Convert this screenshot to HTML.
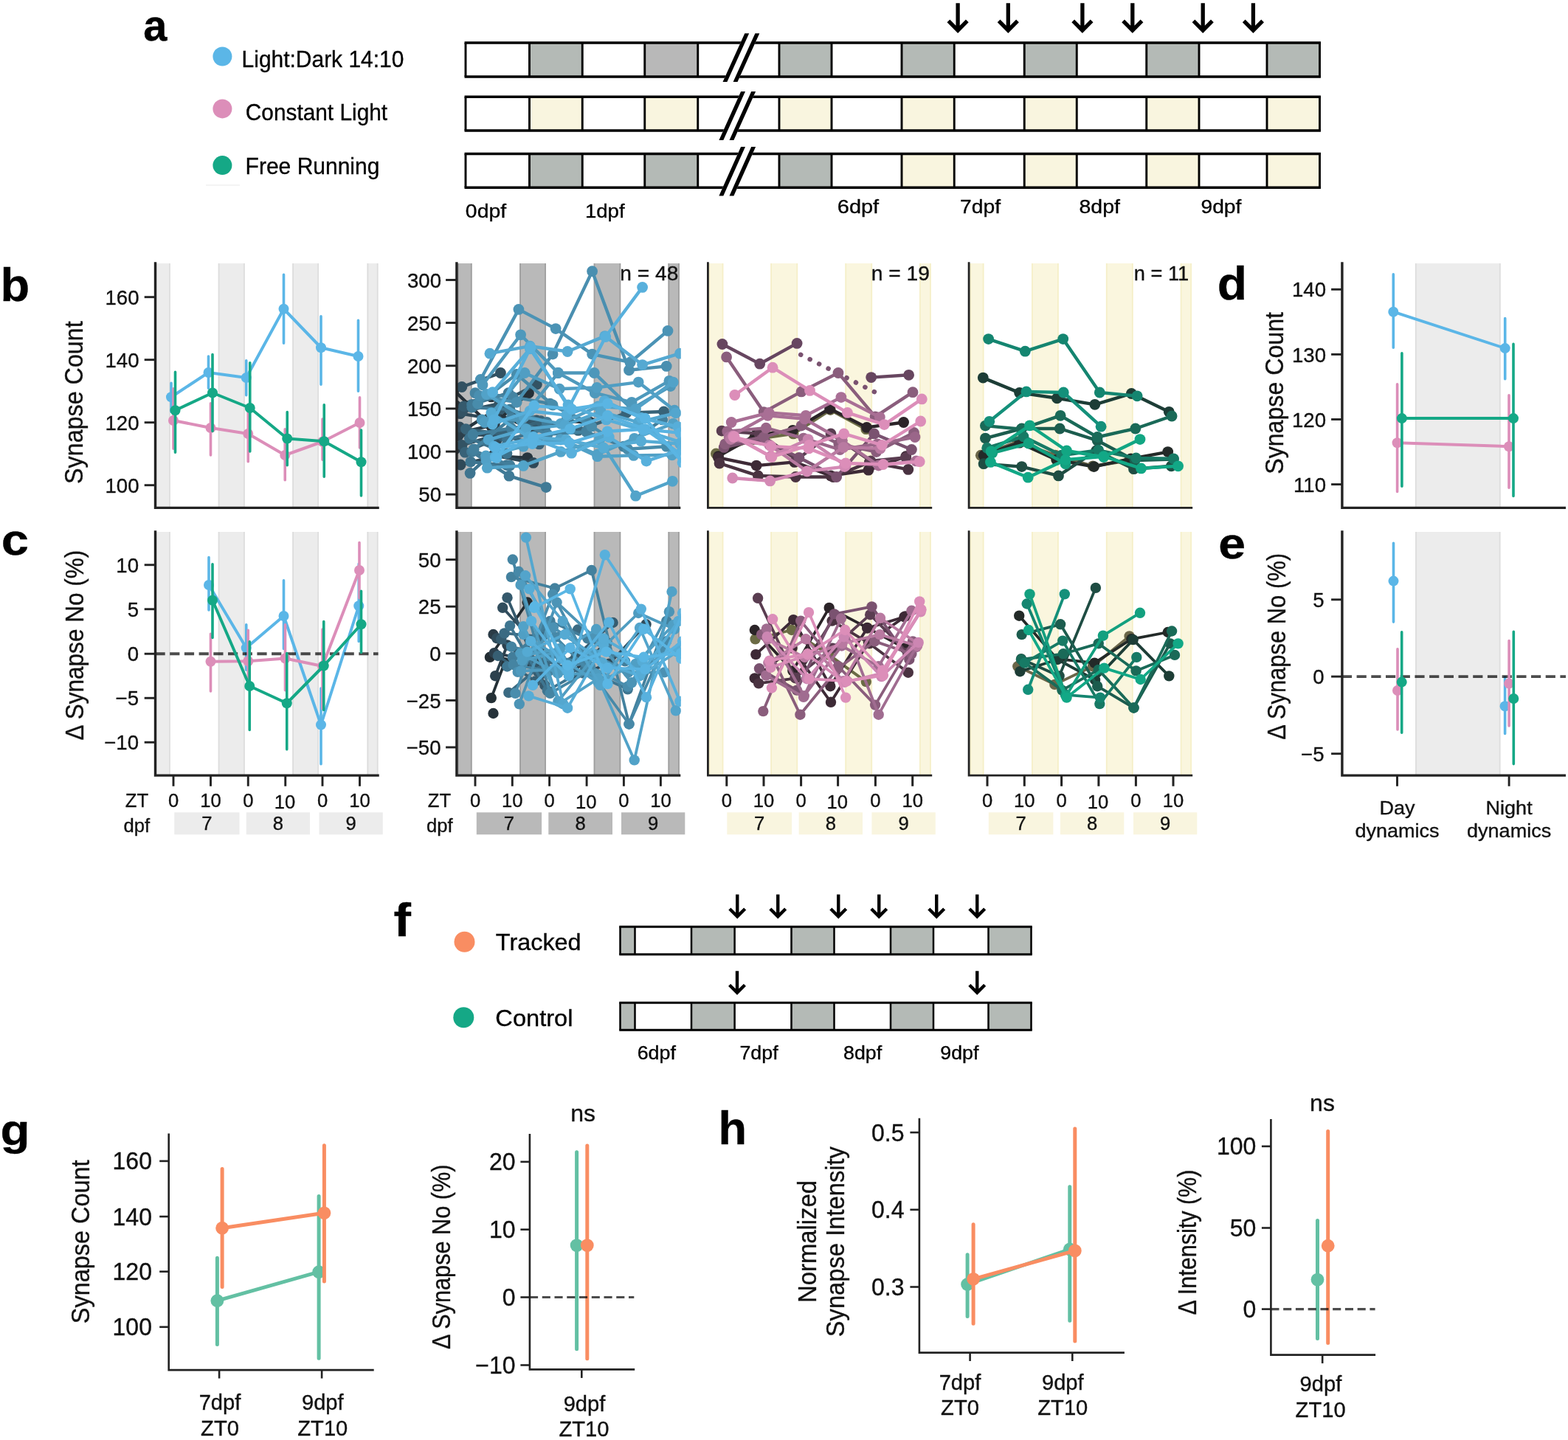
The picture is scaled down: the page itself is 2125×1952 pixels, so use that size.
<!DOCTYPE html>
<html lang="en">
<head>
<meta charset="utf-8">
<title>Synapse dynamics figure</title>
<style>
html,body{margin:0;padding:0;background:#fff;}
body{width:2125px;height:1952px;overflow:hidden;}
svg{display:block;font-family:"Liberation Sans", Arial, Helvetica, sans-serif;}
text{stroke:#111;stroke-width:0.35px;paint-order:stroke;}
</style>
</head>
<body>
<svg width="2125" height="1952" viewBox="0 0 2125 1952">
<rect width="2125" height="1952" fill="#fff"/>
<text transform="translate(194.26 55.40) scale(0.9821 1)" font-size="59" font-weight="bold" fill="#000">a</text>
<circle cx="301.40" cy="76.50" r="13" fill="#5BB6E7"/>
<circle cx="301.40" cy="147.40" r="13" fill="#DC8EB9"/>
<circle cx="301.40" cy="224.10" r="13" fill="#15A886"/>
<text transform="translate(327.60 91.20) scale(0.9820 1)" font-size="30.5" fill="#000">Light:Dark 14:10</text>
<text transform="translate(332.76 162.50) scale(0.9787 1)" font-size="30.5" fill="#000">Constant Light</text>
<text transform="translate(332.60 236.20) scale(0.9839 1)" font-size="30.5" fill="#000">Free Running</text>
<line x1="279.00" y1="251.00" x2="325.00" y2="251.00" stroke="#e9e9e9" stroke-width="1"/>
<rect x="717.50" y="58.10" width="71.75" height="46.00" fill="#B4BAB6"/>
<rect x="873.75" y="58.10" width="72.00" height="46.00" fill="#B8B8B8"/>
<rect x="1056.00" y="58.10" width="71.00" height="46.00" fill="#B4BAB6"/>
<rect x="1222.00" y="58.10" width="71.25" height="46.00" fill="#B4BAB6"/>
<rect x="1388.25" y="58.10" width="71.00" height="46.00" fill="#B4BAB6"/>
<rect x="1553.75" y="58.10" width="71.25" height="46.00" fill="#B4BAB6"/>
<rect x="1717.00" y="58.10" width="71.50" height="46.00" fill="#B4BAB6"/>
<path d="M717.50 58.10V104.10M789.25 58.10V104.10M873.75 58.10V104.10M945.75 58.10V104.10M1056.00 58.10V104.10M1127.00 58.10V104.10M1222.00 58.10V104.10M1293.25 58.10V104.10M1388.25 58.10V104.10M1459.25 58.10V104.10M1553.75 58.10V104.10M1625.00 58.10V104.10M1717.00 58.10V104.10" fill="none" stroke="#000" stroke-width="2.9"/>
<path d="M629.55 58.10H1789.95M629.55 104.10H1789.95" fill="none" stroke="#000" stroke-width="3.5"/>
<path d="M631.00 58.10V104.10M1788.50 58.10V104.10" fill="none" stroke="#000" stroke-width="2.9"/>
<rect x="717.50" y="131.20" width="71.75" height="45.80" fill="#F9F5DF"/>
<rect x="873.75" y="131.20" width="72.00" height="45.80" fill="#F9F5DF"/>
<rect x="1056.00" y="131.20" width="71.00" height="45.80" fill="#F9F5DF"/>
<rect x="1222.00" y="131.20" width="71.25" height="45.80" fill="#F9F5DF"/>
<rect x="1388.25" y="131.20" width="71.00" height="45.80" fill="#F9F5DF"/>
<rect x="1553.75" y="131.20" width="71.25" height="45.80" fill="#F9F5DF"/>
<rect x="1717.00" y="131.20" width="71.50" height="45.80" fill="#F9F5DF"/>
<path d="M717.50 131.20V177.00M789.25 131.20V177.00M873.75 131.20V177.00M945.75 131.20V177.00M1056.00 131.20V177.00M1127.00 131.20V177.00M1222.00 131.20V177.00M1293.25 131.20V177.00M1388.25 131.20V177.00M1459.25 131.20V177.00M1553.75 131.20V177.00M1625.00 131.20V177.00M1717.00 131.20V177.00" fill="none" stroke="#000" stroke-width="2.9"/>
<path d="M629.55 131.20H1789.95M629.55 177.00H1789.95" fill="none" stroke="#000" stroke-width="3.5"/>
<path d="M631.00 131.20V177.00M1788.50 131.20V177.00" fill="none" stroke="#000" stroke-width="2.9"/>
<rect x="717.50" y="208.50" width="71.75" height="45.70" fill="#B4BAB6"/>
<rect x="873.75" y="208.50" width="72.00" height="45.70" fill="#B4BAB6"/>
<rect x="1056.00" y="208.50" width="71.00" height="45.70" fill="#B4BAB6"/>
<rect x="1222.00" y="208.50" width="71.25" height="45.70" fill="#F9F5DF"/>
<rect x="1388.25" y="208.50" width="71.00" height="45.70" fill="#F9F5DF"/>
<rect x="1553.75" y="208.50" width="71.25" height="45.70" fill="#F9F5DF"/>
<rect x="1717.00" y="208.50" width="71.50" height="45.70" fill="#F9F5DF"/>
<path d="M717.50 208.50V254.20M789.25 208.50V254.20M873.75 208.50V254.20M945.75 208.50V254.20M1056.00 208.50V254.20M1127.00 208.50V254.20M1222.00 208.50V254.20M1293.25 208.50V254.20M1388.25 208.50V254.20M1459.25 208.50V254.20M1553.75 208.50V254.20M1625.00 208.50V254.20M1717.00 208.50V254.20" fill="none" stroke="#000" stroke-width="2.9"/>
<path d="M629.55 208.50H1789.95M629.55 254.20H1789.95" fill="none" stroke="#000" stroke-width="3.5"/>
<path d="M631.00 208.50V254.20M1788.50 208.50V254.20" fill="none" stroke="#000" stroke-width="2.9"/>
<path d="M979.50 110.90L1009.30 45.20H1029.30L999.50 110.90Z" fill="#fff"/>
<path d="M979.50 110.90L1009.30 45.20h5.9L985.40 110.90ZM993.60 110.90L1023.40 45.20h5.9L999.50 110.90Z" fill="#000"/>
<path d="M974.40 189.90L1004.10 124.00H1024.10L994.40 189.90Z" fill="#fff"/>
<path d="M974.40 189.90L1004.10 124.00h5.9L980.30 189.90ZM988.50 189.90L1018.20 124.00h5.9L994.40 189.90Z" fill="#000"/>
<path d="M974.40 265.40L1004.10 199.10H1024.10L994.40 265.40Z" fill="#fff"/>
<path d="M974.40 265.40L1004.10 199.10h5.9L980.30 265.40ZM988.50 265.40L1018.20 199.10h5.9L994.40 265.40Z" fill="#000"/>
<path d="M1298.10 4.20V41.15M1285.40 28.45L1298.10 41.15L1310.80 28.45" fill="none" stroke="#000" stroke-width="5.3" stroke-linejoin="miter" stroke-miterlimit="10"/>
<path d="M1366.30 4.20V41.15M1353.60 28.45L1366.30 41.15L1379.00 28.45" fill="none" stroke="#000" stroke-width="5.3" stroke-linejoin="miter" stroke-miterlimit="10"/>
<path d="M1466.90 4.20V41.15M1454.20 28.45L1466.90 41.15L1479.60 28.45" fill="none" stroke="#000" stroke-width="5.3" stroke-linejoin="miter" stroke-miterlimit="10"/>
<path d="M1534.80 4.20V41.15M1522.10 28.45L1534.80 41.15L1547.50 28.45" fill="none" stroke="#000" stroke-width="5.3" stroke-linejoin="miter" stroke-miterlimit="10"/>
<path d="M1630.20 4.20V41.15M1617.50 28.45L1630.20 41.15L1642.90 28.45" fill="none" stroke="#000" stroke-width="5.3" stroke-linejoin="miter" stroke-miterlimit="10"/>
<path d="M1698.40 4.20V41.15M1685.70 28.45L1698.40 41.15L1711.10 28.45" fill="none" stroke="#000" stroke-width="5.3" stroke-linejoin="miter" stroke-miterlimit="10"/>
<text transform="translate(630.86 294.50) scale(1.0718 1)" font-size="26.5" fill="#000">0dpf</text>
<text transform="translate(792.93 294.50) scale(1.0415 1)" font-size="26.5" fill="#000">1dpf</text>
<text transform="translate(1134.80 289.00) scale(1.0924 1)" font-size="26.5" fill="#000">6dpf</text>
<text transform="translate(1301.09 289.00) scale(1.0675 1)" font-size="26.5" fill="#000">7dpf</text>
<text transform="translate(1462.47 289.00) scale(1.0746 1)" font-size="26.5" fill="#000">8dpf</text>
<text transform="translate(1627.48 289.00) scale(1.0647 1)" font-size="26.5" fill="#000">9dpf</text>
<text transform="translate(0.58 407.90) scale(1.0310 1)" font-size="63" font-weight="bold" fill="#000">b</text>
<rect x="211.00" y="357.00" width="19.75" height="331.40" fill="#ECECEC"/>
<path d="M211.85 357.00V688.40M229.90 357.00V688.40" stroke="#DDDDDD" stroke-width="1.7" fill="none"/>
<rect x="295.75" y="357.00" width="36.00" height="331.40" fill="#ECECEC"/>
<path d="M296.60 357.00V688.40M330.90 357.00V688.40" stroke="#DDDDDD" stroke-width="1.7" fill="none"/>
<rect x="396.25" y="357.00" width="35.75" height="331.40" fill="#ECECEC"/>
<path d="M397.10 357.00V688.40M431.15 357.00V688.40" stroke="#DDDDDD" stroke-width="1.7" fill="none"/>
<rect x="497.50" y="357.00" width="15.00" height="331.40" fill="#ECECEC"/>
<path d="M498.35 357.00V688.40M511.65 357.00V688.40" stroke="#DDDDDD" stroke-width="1.7" fill="none"/>
<g stroke="#5BB6E7" fill="#5BB6E7"><polyline points="232.00,538.25 282.50,505.00 333.75,512.00 384.50,418.75 435.00,471.25 485.50,483.00" fill="none" stroke-width="4.0" stroke-linejoin="round"/><path d="M232.00 519.30V558.20M282.50 483.05V526.20M333.75 488.80V535.70M384.50 372.30V465.20M435.00 428.80V521.20M485.50 434.30V530.20" fill="none" stroke-width="3.6" stroke-linecap="round"/><circle cx="232.00" cy="538.25" r="7" stroke="none"/><circle cx="282.50" cy="505.00" r="7" stroke="none"/><circle cx="333.75" cy="512.00" r="7" stroke="none"/><circle cx="384.50" cy="418.75" r="7" stroke="none"/><circle cx="435.00" cy="471.25" r="7" stroke="none"/><circle cx="485.50" cy="483.00" r="7" stroke="none"/></g>
<g stroke="#DC8EB9" fill="#DC8EB9"><polyline points="235.00,570.00 285.50,580.00 336.25,588.00 386.25,617.00 437.00,598.75 487.50,573.00" fill="none" stroke-width="4.0" stroke-linejoin="round"/><path d="M235.00 526.80V608.20M285.50 546.80V616.95M336.25 554.30V625.70M386.25 581.80V650.70M437.00 568.05V623.20M487.50 538.80V606.95" fill="none" stroke-width="3.6" stroke-linecap="round"/><circle cx="235.00" cy="570.00" r="7" stroke="none"/><circle cx="285.50" cy="580.00" r="7" stroke="none"/><circle cx="336.25" cy="588.00" r="7" stroke="none"/><circle cx="386.25" cy="617.00" r="7" stroke="none"/><circle cx="437.00" cy="598.75" r="7" stroke="none"/><circle cx="487.50" cy="573.00" r="7" stroke="none"/></g>
<g stroke="#15A886" fill="#15A886"><polyline points="237.50,556.25 288.00,532.50 338.75,553.00 389.25,594.50 439.25,598.25 489.50,626.25" fill="none" stroke-width="4.0" stroke-linejoin="round"/><path d="M237.50 504.30V613.20M288.00 480.55V584.45M338.75 491.80V611.95M389.25 558.55V630.70M439.25 548.80V646.20M489.50 583.05V671.95" fill="none" stroke-width="3.6" stroke-linecap="round"/><circle cx="237.50" cy="556.25" r="7" stroke="none"/><circle cx="288.00" cy="532.50" r="7" stroke="none"/><circle cx="338.75" cy="553.00" r="7" stroke="none"/><circle cx="389.25" cy="594.50" r="7" stroke="none"/><circle cx="439.25" cy="598.25" r="7" stroke="none"/><circle cx="489.50" cy="626.25" r="7" stroke="none"/></g>
<path d="M210.50 355.20V688.40H513.75" fill="none" stroke="#222" stroke-width="3.4" stroke-linejoin="miter"/>
<line x1="195.70" y1="402.70" x2="210.50" y2="402.70" stroke="#222" stroke-width="2.9"/>
<text transform="translate(188.50 412.80) scale(0.9750 1)" font-size="28.30" text-anchor="end" fill="#111">160</text>
<line x1="195.70" y1="487.70" x2="210.50" y2="487.70" stroke="#222" stroke-width="2.9"/>
<text transform="translate(188.50 497.80) scale(0.9750 1)" font-size="28.30" text-anchor="end" fill="#111">140</text>
<line x1="195.70" y1="572.70" x2="210.50" y2="572.70" stroke="#222" stroke-width="2.9"/>
<text transform="translate(188.50 582.80) scale(0.9750 1)" font-size="28.30" text-anchor="end" fill="#111">120</text>
<line x1="195.70" y1="657.70" x2="210.50" y2="657.70" stroke="#222" stroke-width="2.9"/>
<text transform="translate(188.50 667.80) scale(0.9750 1)" font-size="28.30" text-anchor="end" fill="#111">100</text>
<text transform="translate(112.30 655.95) rotate(-90) scale(0.9383 1)" font-size="34.4" fill="#111">Synapse Count</text>
<text transform="translate(1.83 752.10) scale(1.1134 1)" font-size="60" font-weight="bold" fill="#000">c</text>
<rect x="211.00" y="721.00" width="19.75" height="330.10" fill="#ECECEC"/>
<path d="M211.85 721.00V1051.10M229.90 721.00V1051.10" stroke="#DDDDDD" stroke-width="1.7" fill="none"/>
<rect x="295.75" y="721.00" width="36.00" height="330.10" fill="#ECECEC"/>
<path d="M296.60 721.00V1051.10M330.90 721.00V1051.10" stroke="#DDDDDD" stroke-width="1.7" fill="none"/>
<rect x="396.25" y="721.00" width="35.75" height="330.10" fill="#ECECEC"/>
<path d="M397.10 721.00V1051.10M431.15 721.00V1051.10" stroke="#DDDDDD" stroke-width="1.7" fill="none"/>
<rect x="497.50" y="721.00" width="15.00" height="330.10" fill="#ECECEC"/>
<path d="M498.35 721.00V1051.10M511.65 721.00V1051.10" stroke="#DDDDDD" stroke-width="1.7" fill="none"/>
<g stroke="#5BB6E7" fill="#5BB6E7"><polyline points="283.00,793.00 333.75,878.25 384.50,835.00 435.00,982.50 486.25,821.25" fill="none" stroke-width="4.0" stroke-linejoin="round"/><path d="M283.00 755.55V826.95M333.75 846.80V908.20M384.50 786.80V879.45M435.00 933.05V1035.70M486.25 764.30V869.45" fill="none" stroke-width="3.6" stroke-linecap="round"/><circle cx="283.00" cy="793.00" r="7" stroke="none"/><circle cx="333.75" cy="878.25" r="7" stroke="none"/><circle cx="384.50" cy="835.00" r="7" stroke="none"/><circle cx="435.00" cy="982.50" r="7" stroke="none"/><circle cx="486.25" cy="821.25" r="7" stroke="none"/></g>
<line x1="210.50" y1="886.25" x2="512.60" y2="886.25" stroke="#000" stroke-opacity="0.7" stroke-width="3.8" stroke-dasharray="13.2 6.5"/>
<g stroke="#DC8EB9" fill="#DC8EB9"><polyline points="285.50,896.75 336.25,896.25 386.50,892.50 437.00,903.00 487.00,773.00" fill="none" stroke-width="4.0" stroke-linejoin="round"/><path d="M285.50 859.30V936.95M336.25 854.30V933.20M386.50 846.80V935.70M437.00 853.05V960.70M487.00 735.55V810.70" fill="none" stroke-width="3.6" stroke-linecap="round"/><circle cx="285.50" cy="896.75" r="7" stroke="none"/><circle cx="336.25" cy="896.25" r="7" stroke="none"/><circle cx="386.50" cy="892.50" r="7" stroke="none"/><circle cx="437.00" cy="903.00" r="7" stroke="none"/><circle cx="487.00" cy="773.00" r="7" stroke="none"/></g>
<g stroke="#15A886" fill="#15A886"><polyline points="288.00,813.75 338.25,930.00 388.75,953.25 438.75,902.50 489.50,846.25" fill="none" stroke-width="4.0" stroke-linejoin="round"/><path d="M288.00 764.80V864.45M338.25 869.80V989.45M388.75 885.55V1015.70M438.75 842.55V962.45M489.50 801.30V884.45" fill="none" stroke-width="3.6" stroke-linecap="round"/><circle cx="288.00" cy="813.75" r="7" stroke="none"/><circle cx="338.25" cy="930.00" r="7" stroke="none"/><circle cx="388.75" cy="953.25" r="7" stroke="none"/><circle cx="438.75" cy="902.50" r="7" stroke="none"/><circle cx="489.50" cy="846.25" r="7" stroke="none"/></g>
<path d="M210.50 719.30V1051.10H513.75" fill="none" stroke="#222" stroke-width="3.4" stroke-linejoin="miter"/>
<line x1="195.70" y1="765.75" x2="210.50" y2="765.75" stroke="#222" stroke-width="2.9"/>
<text transform="translate(188.00 775.85) scale(0.9750 1)" font-size="28.30" text-anchor="end" fill="#111">10</text>
<line x1="195.70" y1="825.75" x2="210.50" y2="825.75" stroke="#222" stroke-width="2.9"/>
<text transform="translate(188.00 835.85) scale(0.9750 1)" font-size="28.30" text-anchor="end" fill="#111">5</text>
<line x1="195.70" y1="886.25" x2="210.50" y2="886.25" stroke="#222" stroke-width="2.9"/>
<text transform="translate(188.00 896.35) scale(0.9750 1)" font-size="28.30" text-anchor="end" fill="#111">0</text>
<line x1="195.70" y1="946.25" x2="210.50" y2="946.25" stroke="#222" stroke-width="2.9"/>
<text transform="translate(188.00 956.35) scale(0.9750 1)" font-size="28.30" text-anchor="end" fill="#111">−5</text>
<line x1="195.70" y1="1006.25" x2="210.50" y2="1006.25" stroke="#222" stroke-width="2.9"/>
<text transform="translate(188.00 1016.35) scale(0.9750 1)" font-size="28.30" text-anchor="end" fill="#111">−10</text>
<text transform="translate(112.50 1003.45) rotate(-90) scale(0.9174 1)" font-size="34.4" fill="#111">Δ Synapse No (%)</text>
<path d="M235.00 1051.10v14.6M285.50 1051.10v14.6M336.25 1051.10v14.6M386.75 1051.10v14.6M437.00 1051.10v14.6M487.50 1051.10v14.6" fill="none" stroke="#222" stroke-width="2.9"/>
<text transform="translate(235.00 1093.50) scale(1.0000 1)" font-size="25.60" text-anchor="middle" fill="#111">0</text>
<text transform="translate(285.50 1093.50) scale(1.0000 1)" font-size="25.60" text-anchor="middle" fill="#111">10</text>
<text transform="translate(336.25 1093.50) scale(1.0000 1)" font-size="25.60" text-anchor="middle" fill="#111">0</text>
<text transform="translate(385.95 1095.50) scale(1.0000 1)" font-size="25.60" text-anchor="middle" fill="#111">10</text>
<text transform="translate(437.00 1093.50) scale(1.0000 1)" font-size="25.60" text-anchor="middle" fill="#111">0</text>
<text transform="translate(487.50 1093.50) scale(1.0000 1)" font-size="25.60" text-anchor="middle" fill="#111">10</text>
<rect x="236.25" y="1101.25" width="88.25" height="30.00" fill="#ECECEC"/>
<text transform="translate(280.38 1124.50) scale(1.0000 1)" font-size="25.60" text-anchor="middle" fill="#111">7</text>
<rect x="333.75" y="1101.25" width="86.25" height="30.00" fill="#ECECEC"/>
<text transform="translate(376.88 1124.50) scale(1.0000 1)" font-size="25.60" text-anchor="middle" fill="#111">8</text>
<rect x="432.50" y="1101.25" width="86.25" height="30.00" fill="#ECECEC"/>
<text transform="translate(475.62 1124.50) scale(1.0000 1)" font-size="25.60" text-anchor="middle" fill="#111">9</text>
<text transform="translate(169.73 1093.50) scale(1.0016 1)" font-size="25.6" fill="#111">ZT</text>
<text transform="translate(167.50 1127.80) scale(1.0000 1)" font-size="25.60" text-anchor="start" fill="#111">dpf</text>
<rect x="620.00" y="357.00" width="19.60" height="331.40" fill="#B9B9B9"/>
<path d="M620.85 357.00V688.40M638.75 357.00V688.40" stroke="#9E9E9E" stroke-width="1.7" fill="none"/>
<rect x="704.20" y="357.00" width="35.70" height="331.40" fill="#B9B9B9"/>
<path d="M705.05 357.00V688.40M739.05 357.00V688.40" stroke="#9E9E9E" stroke-width="1.7" fill="none"/>
<rect x="804.70" y="357.00" width="36.50" height="331.40" fill="#B9B9B9"/>
<path d="M805.55 357.00V688.40M840.35 357.00V688.40" stroke="#9E9E9E" stroke-width="1.7" fill="none"/>
<rect x="905.50" y="357.00" width="15.30" height="331.40" fill="#B9B9B9"/>
<path d="M906.35 357.00V688.40M919.95 357.00V688.40" stroke="#9E9E9E" stroke-width="1.7" fill="none"/>
<clipPath id="cb2"><rect x="618.90" y="340.00" width="303.90" height="348.40"/></clipPath>
<g clip-path="url(#cb2)">
<g stroke="#253038" fill="#253038"><polyline points="615.0,529.0 665.8,578.0 716.5,532.7" fill="none" stroke-width="4.4" stroke-linejoin="round"/><circle cx="615.0" cy="529.0" r="7.4" stroke="none"/><circle cx="665.8" cy="578.0" r="7.4" stroke="none"/><circle cx="716.5" cy="532.7" r="7.4" stroke="none"/></g>
<g stroke="#27343c" fill="#27343c"><polyline points="617.1,549.3 665.8,537.9" fill="none" stroke-width="4.4" stroke-linejoin="round"/><circle cx="617.1" cy="549.3" r="7.4" stroke="none"/><circle cx="665.8" cy="537.9" r="7.4" stroke="none"/></g>
<g stroke="#27353e" fill="#27353e"><polyline points="616.8,608.8 667.6,617.9 714.7,620.6" fill="none" stroke-width="4.4" stroke-linejoin="round"/><circle cx="616.8" cy="608.8" r="7.4" stroke="none"/><circle cx="667.6" cy="617.9" r="7.4" stroke="none"/><circle cx="714.7" cy="620.6" r="7.4" stroke="none"/></g>
<g stroke="#27353e" fill="#27353e"><polyline points="616.8,590.7 667.6,558.0 716.5,579.8 767.3,570.7 799.9,572.5" fill="none" stroke-width="4.4" stroke-linejoin="round"/><circle cx="616.8" cy="590.7" r="7.4" stroke="none"/><circle cx="667.6" cy="558.0" r="7.4" stroke="none"/><circle cx="716.5" cy="579.8" r="7.4" stroke="none"/><circle cx="767.3" cy="570.7" r="7.4" stroke="none"/><circle cx="799.9" cy="572.5" r="7.4" stroke="none"/></g>
<g stroke="#2a3c48" fill="#2a3c48"><polyline points="619.0,587.4 670.3,575.8" fill="none" stroke-width="4.4" stroke-linejoin="round"/><circle cx="619.0" cy="587.4" r="7.4" stroke="none"/><circle cx="670.3" cy="575.8" r="7.4" stroke="none"/></g>
<g stroke="#2c404c" fill="#2c404c"><polyline points="621.2,590.6 671.7,588.8 720.5,581.2" fill="none" stroke-width="4.4" stroke-linejoin="round"/><circle cx="621.2" cy="590.6" r="7.4" stroke="none"/><circle cx="671.7" cy="588.8" r="7.4" stroke="none"/><circle cx="720.5" cy="581.2" r="7.4" stroke="none"/></g>
<g stroke="#2f4958" fill="#2f4958"><polyline points="623.6,560.7 673.3,568.3 722.9,570.9" fill="none" stroke-width="4.4" stroke-linejoin="round"/><circle cx="623.6" cy="560.7" r="7.4" stroke="none"/><circle cx="673.3" cy="568.3" r="7.4" stroke="none"/><circle cx="722.9" cy="570.9" r="7.4" stroke="none"/></g>
<g stroke="#2f4958" fill="#2f4958"><polyline points="624.1,630.0 673.4,618.2 722.8,627.4" fill="none" stroke-width="4.4" stroke-linejoin="round"/><circle cx="624.1" cy="630.0" r="7.4" stroke="none"/><circle cx="673.4" cy="618.2" r="7.4" stroke="none"/><circle cx="722.8" cy="627.4" r="7.4" stroke="none"/></g>
<g stroke="#304a59" fill="#304a59"><polyline points="622.8,579.0 673.1,596.5" fill="none" stroke-width="4.4" stroke-linejoin="round"/><circle cx="622.8" cy="579.0" r="7.4" stroke="none"/><circle cx="673.1" cy="596.5" r="7.4" stroke="none"/></g>
<g stroke="#325162" fill="#325162"><polyline points="625.9,524.5 678.4,505.5" fill="none" stroke-width="4.4" stroke-linejoin="round"/><circle cx="625.9" cy="524.5" r="7.4" stroke="none"/><circle cx="678.4" cy="505.5" r="7.4" stroke="none"/></g>
<g stroke="#335364" fill="#335364"><polyline points="626.0,603.5 675.6,588.9 727.1,569.9" fill="none" stroke-width="4.4" stroke-linejoin="round"/><circle cx="626.0" cy="603.5" r="7.4" stroke="none"/><circle cx="675.6" cy="588.9" r="7.4" stroke="none"/><circle cx="727.1" cy="569.9" r="7.4" stroke="none"/></g>
<g stroke="#335364" fill="#335364"><polyline points="626.4,558.0 676.6,547.2 727.4,520.9" fill="none" stroke-width="4.4" stroke-linejoin="round"/><circle cx="626.4" cy="558.0" r="7.4" stroke="none"/><circle cx="676.6" cy="547.2" r="7.4" stroke="none"/><circle cx="727.4" cy="520.9" r="7.4" stroke="none"/></g>
<g stroke="#355a6d" fill="#355a6d"><polyline points="628.6,550.8 678.4,554.4 727.4,572.5" fill="none" stroke-width="4.4" stroke-linejoin="round"/><circle cx="628.6" cy="550.8" r="7.4" stroke="none"/><circle cx="678.4" cy="554.4" r="7.4" stroke="none"/><circle cx="727.4" cy="572.5" r="7.4" stroke="none"/></g>
<g stroke="#386278" fill="#386278"><polyline points="630.2,613.2 680.9,591.1 730.6,601.9" fill="none" stroke-width="4.4" stroke-linejoin="round"/><circle cx="630.2" cy="613.2" r="7.4" stroke="none"/><circle cx="680.9" cy="591.1" r="7.4" stroke="none"/><circle cx="730.6" cy="601.9" r="7.4" stroke="none"/></g>
<g stroke="#386378" fill="#386378"><polyline points="631.3,581.6 682.1,588.8 732.8,570.7 783.6,583.4 848.8,559.8 899.6,558.0" fill="none" stroke-width="4.4" stroke-linejoin="round"/><circle cx="631.3" cy="581.6" r="7.4" stroke="none"/><circle cx="682.1" cy="588.8" r="7.4" stroke="none"/><circle cx="732.8" cy="570.7" r="7.4" stroke="none"/><circle cx="783.6" cy="583.4" r="7.4" stroke="none"/><circle cx="848.8" cy="559.8" r="7.4" stroke="none"/><circle cx="899.6" cy="558.0" r="7.4" stroke="none"/></g>
<g stroke="#3d728c" fill="#3d728c"><polyline points="636.3,594.3 686.9,614.7" fill="none" stroke-width="4.4" stroke-linejoin="round"/><circle cx="636.3" cy="594.3" r="7.4" stroke="none"/><circle cx="686.9" cy="614.7" r="7.4" stroke="none"/></g>
<g stroke="#3e748f" fill="#3e748f"><polyline points="637.1,641.4 687.5,596.1 738.3,581.6" fill="none" stroke-width="4.4" stroke-linejoin="round"/><circle cx="637.1" cy="641.4" r="7.4" stroke="none"/><circle cx="687.5" cy="596.1" r="7.4" stroke="none"/><circle cx="738.3" cy="581.6" r="7.4" stroke="none"/></g>
<g stroke="#3e7590" fill="#3e7590"><polyline points="637.8,626.1 686.7,630.6" fill="none" stroke-width="4.4" stroke-linejoin="round"/><circle cx="637.8" cy="626.1" r="7.4" stroke="none"/><circle cx="686.7" cy="630.6" r="7.4" stroke="none"/></g>
<g stroke="#407a96" fill="#407a96"><polyline points="639.5,612.4 690.0,645.2 740.1,660.6" fill="none" stroke-width="4.4" stroke-linejoin="round"/><circle cx="639.5" cy="612.4" r="7.4" stroke="none"/><circle cx="690.0" cy="645.2" r="7.4" stroke="none"/><circle cx="740.1" cy="660.6" r="7.4" stroke="none"/></g>
<g stroke="#407a96" fill="#407a96"><polyline points="639.6,548.5 689.1,532.7" fill="none" stroke-width="4.4" stroke-linejoin="round"/><circle cx="639.6" cy="548.5" r="7.4" stroke="none"/><circle cx="689.1" cy="532.7" r="7.4" stroke="none"/></g>
<g stroke="#417b97" fill="#417b97"><polyline points="639.8,552.2 691.0,554.9 741.1,572.3" fill="none" stroke-width="4.4" stroke-linejoin="round"/><circle cx="639.8" cy="552.2" r="7.4" stroke="none"/><circle cx="691.0" cy="554.9" r="7.4" stroke="none"/><circle cx="741.1" cy="572.3" r="7.4" stroke="none"/></g>
<g stroke="#427e9a" fill="#427e9a"><polyline points="641.3,610.5 691.0,630.9" fill="none" stroke-width="4.4" stroke-linejoin="round"/><circle cx="641.3" cy="610.5" r="7.4" stroke="none"/><circle cx="691.0" cy="630.9" r="7.4" stroke="none"/></g>
<g stroke="#427f9c" fill="#427f9c"><polyline points="640.9,589.0 692.8,580.4" fill="none" stroke-width="4.4" stroke-linejoin="round"/><circle cx="640.9" cy="589.0" r="7.4" stroke="none"/><circle cx="692.8" cy="580.4" r="7.4" stroke="none"/></g>
<g stroke="#43809d" fill="#43809d"><polyline points="642.2,608.8 692.9,567.1 741.9,588.8 794.5,585.2 845.2,605.2 897.8,568.9" fill="none" stroke-width="4.4" stroke-linejoin="round"/><circle cx="642.2" cy="608.8" r="7.4" stroke="none"/><circle cx="692.9" cy="567.1" r="7.4" stroke="none"/><circle cx="741.9" cy="588.8" r="7.4" stroke="none"/><circle cx="794.5" cy="585.2" r="7.4" stroke="none"/><circle cx="845.2" cy="605.2" r="7.4" stroke="none"/><circle cx="897.8" cy="568.9" r="7.4" stroke="none"/></g>
<g stroke="#4584a2" fill="#4584a2"><polyline points="644.0,532.7 694.8,538.1 745.5,547.2 796.3,572.5" fill="none" stroke-width="4.4" stroke-linejoin="round"/><circle cx="644.0" cy="532.7" r="7.4" stroke="none"/><circle cx="694.8" cy="538.1" r="7.4" stroke="none"/><circle cx="745.5" cy="547.2" r="7.4" stroke="none"/><circle cx="796.3" cy="572.5" r="7.4" stroke="none"/></g>
<g stroke="#488cab" fill="#488cab"><polyline points="647.6,547.2 700.2,507.3 749.1,549.0 801.7,578.0 850.7,608.8 903.2,605.2" fill="none" stroke-width="4.4" stroke-linejoin="round"/><circle cx="647.6" cy="547.2" r="7.4" stroke="none"/><circle cx="700.2" cy="507.3" r="7.4" stroke="none"/><circle cx="749.1" cy="549.0" r="7.4" stroke="none"/><circle cx="801.7" cy="578.0" r="7.4" stroke="none"/><circle cx="850.7" cy="608.8" r="7.4" stroke="none"/><circle cx="903.2" cy="605.2" r="7.4" stroke="none"/></g>
<g stroke="#4a8fb0" fill="#4a8fb0"><polyline points="649.4,536.3 700.2,545.3 749.1,480.1 802.6,367.7 852.5,501.8 903.2,496.4" fill="none" stroke-width="4.4" stroke-linejoin="round"/><circle cx="649.4" cy="536.3" r="7.4" stroke="none"/><circle cx="700.2" cy="545.3" r="7.4" stroke="none"/><circle cx="749.1" cy="480.1" r="7.4" stroke="none"/><circle cx="802.6" cy="367.7" r="7.4" stroke="none"/><circle cx="852.5" cy="501.8" r="7.4" stroke="none"/><circle cx="903.2" cy="496.4" r="7.4" stroke="none"/></g>
<g stroke="#4b93b5" fill="#4b93b5"><polyline points="651.3,514.5 702.9,419.4 753.1,445.6 802.6,480.1 854.3,491.0 905.0,448.4" fill="none" stroke-width="4.4" stroke-linejoin="round"/><circle cx="651.3" cy="514.5" r="7.4" stroke="none"/><circle cx="702.9" cy="419.4" r="7.4" stroke="none"/><circle cx="753.1" cy="445.6" r="7.4" stroke="none"/><circle cx="802.6" cy="480.1" r="7.4" stroke="none"/><circle cx="854.3" cy="491.0" r="7.4" stroke="none"/><circle cx="905.0" cy="448.4" r="7.4" stroke="none"/></g>
<g stroke="#4d97ba" fill="#4d97ba"><polyline points="653.1,568.9 705.6,568.9 756.4,505.5 805.3,505.5 856.1,554.4 908.7,523.6" fill="none" stroke-width="4.4" stroke-linejoin="round"/><circle cx="653.1" cy="568.9" r="7.4" stroke="none"/><circle cx="705.6" cy="568.9" r="7.4" stroke="none"/><circle cx="756.4" cy="505.5" r="7.4" stroke="none"/><circle cx="805.3" cy="505.5" r="7.4" stroke="none"/><circle cx="856.1" cy="554.4" r="7.4" stroke="none"/><circle cx="908.7" cy="523.6" r="7.4" stroke="none"/></g>
<g stroke="#4e99bc" fill="#4e99bc"><polyline points="654.0,521.8 705.6,453.8 756.4,505.5 806.2,532.7 856.1,545.3 906.9,516.3" fill="none" stroke-width="4.4" stroke-linejoin="round"/><circle cx="654.0" cy="521.8" r="7.4" stroke="none"/><circle cx="705.6" cy="453.8" r="7.4" stroke="none"/><circle cx="756.4" cy="505.5" r="7.4" stroke="none"/><circle cx="806.2" cy="532.7" r="7.4" stroke="none"/><circle cx="856.1" cy="545.3" r="7.4" stroke="none"/><circle cx="906.9" cy="516.3" r="7.4" stroke="none"/></g>
<g stroke="#509ec3" fill="#509ec3"><polyline points="656.7,572.5 711.1,505.5 758.2,527.2 809.0,525.4 865.2,518.1 914.1,556.2" fill="none" stroke-width="4.4" stroke-linejoin="round"/><circle cx="656.7" cy="572.5" r="7.4" stroke="none"/><circle cx="711.1" cy="505.5" r="7.4" stroke="none"/><circle cx="758.2" cy="527.2" r="7.4" stroke="none"/><circle cx="809.0" cy="525.4" r="7.4" stroke="none"/><circle cx="865.2" cy="518.1" r="7.4" stroke="none"/><circle cx="914.1" cy="556.2" r="7.4" stroke="none"/></g>
<g stroke="#51a1c6" fill="#51a1c6"><polyline points="658.5,617.9 709.3,605.2 760.0,596.1 809.9,616.0 859.7,594.3 912.3,574.3" fill="none" stroke-width="4.4" stroke-linejoin="round"/><circle cx="658.5" cy="617.9" r="7.4" stroke="none"/><circle cx="709.3" cy="605.2" r="7.4" stroke="none"/><circle cx="760.0" cy="596.1" r="7.4" stroke="none"/><circle cx="809.9" cy="616.0" r="7.4" stroke="none"/><circle cx="859.7" cy="594.3" r="7.4" stroke="none"/><circle cx="912.3" cy="574.3" r="7.4" stroke="none"/></g>
<g stroke="#51a1c7" fill="#51a1c7"><polyline points="659.0,623.7 708.3,601.9 759.4,595.6 809.6,618.7 858.7,617.4 910.8,616.8" fill="none" stroke-width="4.4" stroke-linejoin="round"/><circle cx="659.0" cy="623.7" r="7.4" stroke="none"/><circle cx="708.3" cy="601.9" r="7.4" stroke="none"/><circle cx="759.4" cy="595.6" r="7.4" stroke="none"/><circle cx="809.6" cy="618.7" r="7.4" stroke="none"/><circle cx="858.7" cy="617.4" r="7.4" stroke="none"/><circle cx="910.8" cy="616.8" r="7.4" stroke="none"/></g>
<g stroke="#52a2c8" fill="#52a2c8"><polyline points="659.4,534.5 710.2,565.3 760.0,574.3 810.8,550.8 861.5,554.4 912.3,518.1" fill="none" stroke-width="4.4" stroke-linejoin="round"/><circle cx="659.4" cy="534.5" r="7.4" stroke="none"/><circle cx="710.2" cy="565.3" r="7.4" stroke="none"/><circle cx="760.0" cy="574.3" r="7.4" stroke="none"/><circle cx="810.8" cy="550.8" r="7.4" stroke="none"/><circle cx="861.5" cy="554.4" r="7.4" stroke="none"/><circle cx="912.3" cy="518.1" r="7.4" stroke="none"/></g>
<g stroke="#52a4ca" fill="#52a4ca"><polyline points="660.3,634.2 709.3,631.4 760.0,612.4 812.6,596.1 861.5,672.2 911.4,652.3" fill="none" stroke-width="4.4" stroke-linejoin="round"/><circle cx="660.3" cy="634.2" r="7.4" stroke="none"/><circle cx="709.3" cy="631.4" r="7.4" stroke="none"/><circle cx="760.0" cy="612.4" r="7.4" stroke="none"/><circle cx="812.6" cy="596.1" r="7.4" stroke="none"/><circle cx="861.5" cy="672.2" r="7.4" stroke="none"/><circle cx="911.4" cy="652.3" r="7.4" stroke="none"/></g>
<g stroke="#53a6ce" fill="#53a6ce"><polyline points="662.1,596.1 712.9,581.6 765.5,576.2 814.4,558.0 865.2,572.5 915.9,559.8" fill="none" stroke-width="4.4" stroke-linejoin="round"/><circle cx="662.1" cy="596.1" r="7.4" stroke="none"/><circle cx="712.9" cy="581.6" r="7.4" stroke="none"/><circle cx="765.5" cy="576.2" r="7.4" stroke="none"/><circle cx="814.4" cy="558.0" r="7.4" stroke="none"/><circle cx="865.2" cy="572.5" r="7.4" stroke="none"/><circle cx="915.9" cy="559.8" r="7.4" stroke="none"/></g>
<g stroke="#55a9d2" fill="#55a9d2"><polyline points="663.9,479.2 718.3,469.2 769.1,476.5 819.8,455.6 870.6,494.6 921.4,479.2" fill="none" stroke-width="4.4" stroke-linejoin="round"/><circle cx="663.9" cy="479.2" r="7.4" stroke="none"/><circle cx="718.3" cy="469.2" r="7.4" stroke="none"/><circle cx="769.1" cy="476.5" r="7.4" stroke="none"/><circle cx="819.8" cy="455.6" r="7.4" stroke="none"/><circle cx="870.6" cy="494.6" r="7.4" stroke="none"/><circle cx="921.4" cy="479.2" r="7.4" stroke="none"/></g>
<g stroke="#56acd5" fill="#56acd5"><polyline points="665.8,559.8 716.5,592.5 767.3,596.1 818.0,607.0 868.8,597.9 921.4,601.5" fill="none" stroke-width="4.4" stroke-linejoin="round"/><circle cx="665.8" cy="559.8" r="7.4" stroke="none"/><circle cx="716.5" cy="592.5" r="7.4" stroke="none"/><circle cx="767.3" cy="596.1" r="7.4" stroke="none"/><circle cx="818.0" cy="607.0" r="7.4" stroke="none"/><circle cx="868.8" cy="597.9" r="7.4" stroke="none"/><circle cx="921.4" cy="601.5" r="7.4" stroke="none"/></g>
<g stroke="#57aed9" fill="#57aed9"><polyline points="667.6,531.7 718.3,472.8 770.0,549.0 821.7,568.9 872.4,583.4 923.2,599.7" fill="none" stroke-width="4.4" stroke-linejoin="round"/><circle cx="667.6" cy="531.7" r="7.4" stroke="none"/><circle cx="718.3" cy="472.8" r="7.4" stroke="none"/><circle cx="770.0" cy="549.0" r="7.4" stroke="none"/><circle cx="821.7" cy="568.9" r="7.4" stroke="none"/><circle cx="872.4" cy="583.4" r="7.4" stroke="none"/><circle cx="923.2" cy="599.7" r="7.4" stroke="none"/></g>
<g stroke="#57aed9" fill="#57aed9"><polyline points="667.3,575.0 718.1,557.1 767.8,562.6 819.2,543.6 869.0,566.5 918.8,578.6" fill="none" stroke-width="4.4" stroke-linejoin="round"/><circle cx="667.3" cy="575.0" r="7.4" stroke="none"/><circle cx="718.1" cy="557.1" r="7.4" stroke="none"/><circle cx="767.8" cy="562.6" r="7.4" stroke="none"/><circle cx="819.2" cy="543.6" r="7.4" stroke="none"/><circle cx="869.0" cy="566.5" r="7.4" stroke="none"/><circle cx="918.8" cy="578.6" r="7.4" stroke="none"/></g>
<g stroke="#58b0dc" fill="#58b0dc"><polyline points="669.4,568.9 719.2,471.0 770.9,552.6 820.7,456.5 870.6,389.4" fill="none" stroke-width="4.4" stroke-linejoin="round"/><circle cx="669.4" cy="568.9" r="7.4" stroke="none"/><circle cx="719.2" cy="471.0" r="7.4" stroke="none"/><circle cx="770.9" cy="552.6" r="7.4" stroke="none"/><circle cx="820.7" cy="456.5" r="7.4" stroke="none"/><circle cx="870.6" cy="389.4" r="7.4" stroke="none"/></g>
<g stroke="#58b0dc" fill="#58b0dc"><polyline points="669.4,605.2 722.0,594.3 774.5,614.2 825.3,592.5 876.0,625.1 925.0,608.8" fill="none" stroke-width="4.4" stroke-linejoin="round"/><circle cx="669.4" cy="605.2" r="7.4" stroke="none"/><circle cx="722.0" cy="594.3" r="7.4" stroke="none"/><circle cx="774.5" cy="614.2" r="7.4" stroke="none"/><circle cx="825.3" cy="592.5" r="7.4" stroke="none"/><circle cx="876.0" cy="625.1" r="7.4" stroke="none"/><circle cx="925.0" cy="608.8" r="7.4" stroke="none"/></g>
<g stroke="#59b3e0" fill="#59b3e0"><polyline points="671.2,619.7 722.9,592.5 772.7,581.6 823.5,563.5 874.2,581.6 923.2,616.0" fill="none" stroke-width="4.4" stroke-linejoin="round"/><circle cx="671.2" cy="619.7" r="7.4" stroke="none"/><circle cx="722.9" cy="592.5" r="7.4" stroke="none"/><circle cx="772.7" cy="581.6" r="7.4" stroke="none"/><circle cx="823.5" cy="563.5" r="7.4" stroke="none"/><circle cx="874.2" cy="581.6" r="7.4" stroke="none"/><circle cx="923.2" cy="616.0" r="7.4" stroke="none"/></g>
<g stroke="#59b3e1" fill="#59b3e1"><polyline points="671.7,606.6 721.5,601.5 771.7,600.5 823.2,584.8 871.5,581.8 921.7,586.9" fill="none" stroke-width="4.4" stroke-linejoin="round"/><circle cx="671.7" cy="606.6" r="7.4" stroke="none"/><circle cx="721.5" cy="601.5" r="7.4" stroke="none"/><circle cx="771.7" cy="600.5" r="7.4" stroke="none"/><circle cx="823.2" cy="584.8" r="7.4" stroke="none"/><circle cx="871.5" cy="581.8" r="7.4" stroke="none"/><circle cx="921.7" cy="586.9" r="7.4" stroke="none"/></g>
<g stroke="#5ab5e3" fill="#5ab5e3"><polyline points="673.0,620.6 723.8,549.9 774.5,554.4 823.5,547.2 874.2,567.1 925.0,626.9" fill="none" stroke-width="4.4" stroke-linejoin="round"/><circle cx="673.0" cy="620.6" r="7.4" stroke="none"/><circle cx="723.8" cy="549.9" r="7.4" stroke="none"/><circle cx="774.5" cy="554.4" r="7.4" stroke="none"/><circle cx="823.5" cy="547.2" r="7.4" stroke="none"/><circle cx="874.2" cy="567.1" r="7.4" stroke="none"/><circle cx="925.0" cy="626.9" r="7.4" stroke="none"/></g>
</g>
<path d="M618.90 355.20V688.40H922.30" fill="none" stroke="#222" stroke-width="3.4" stroke-linejoin="miter"/>
<text transform="translate(840.27 380.40) scale(1.0236 1)" font-size="27.5" fill="#111">n = 48</text>
<rect x="620.00" y="721.00" width="19.60" height="330.10" fill="#B9B9B9"/>
<path d="M620.85 721.00V1051.10M638.75 721.00V1051.10" stroke="#9E9E9E" stroke-width="1.7" fill="none"/>
<rect x="704.20" y="721.00" width="35.70" height="330.10" fill="#B9B9B9"/>
<path d="M705.05 721.00V1051.10M739.05 721.00V1051.10" stroke="#9E9E9E" stroke-width="1.7" fill="none"/>
<rect x="804.70" y="721.00" width="36.50" height="330.10" fill="#B9B9B9"/>
<path d="M805.55 721.00V1051.10M840.35 721.00V1051.10" stroke="#9E9E9E" stroke-width="1.7" fill="none"/>
<rect x="905.50" y="721.00" width="15.30" height="330.10" fill="#B9B9B9"/>
<path d="M906.35 721.00V1051.10M919.95 721.00V1051.10" stroke="#9E9E9E" stroke-width="1.7" fill="none"/>
<clipPath id="cc2"><rect x="618.90" y="700.00" width="303.90" height="351.10"/></clipPath>
<g clip-path="url(#cc2)">
<g stroke="#232d33" fill="#232d33"><polyline points="663.9,890.8 714.7,816.5" fill="none" stroke-width="3.8" stroke-linejoin="round"/><circle cx="663.9" cy="890.8" r="7.2" stroke="none"/><circle cx="714.7" cy="816.5" r="7.2" stroke="none"/></g>
<g stroke="#243036" fill="#243036"><polyline points="665.8,946.1 683.9,898.1" fill="none" stroke-width="3.8" stroke-linejoin="round"/><circle cx="665.8" cy="946.1" r="7.2" stroke="none"/><circle cx="683.9" cy="898.1" r="7.2" stroke="none"/></g>
<g stroke="#26323a" fill="#26323a"><circle cx="668.5" cy="967.0" r="7.2" stroke="none"/></g>
<g stroke="#2a3b46" fill="#2a3b46"><polyline points="668.5,860.0 716.5,896.3" fill="none" stroke-width="3.8" stroke-linejoin="round"/><circle cx="668.5" cy="860.0" r="7.2" stroke="none"/><circle cx="716.5" cy="896.3" r="7.2" stroke="none"/></g>
<g stroke="#2c3f4c" fill="#2c3f4c"><polyline points="669.8,885.2 720.5,895.3 771.8,914.5 822.7,871.2" fill="none" stroke-width="3.8" stroke-linejoin="round"/><circle cx="669.8" cy="885.2" r="7.2" stroke="none"/><circle cx="720.5" cy="895.3" r="7.2" stroke="none"/><circle cx="771.8" cy="914.5" r="7.2" stroke="none"/><circle cx="822.7" cy="871.2" r="7.2" stroke="none"/></g>
<g stroke="#2c414e" fill="#2c414e"><polyline points="671.2,916.2 687.5,874.5" fill="none" stroke-width="3.8" stroke-linejoin="round"/><circle cx="671.2" cy="916.2" r="7.2" stroke="none"/><circle cx="687.5" cy="874.5" r="7.2" stroke="none"/></g>
<g stroke="#304b5a" fill="#304b5a"><polyline points="673.3,865.2 725.6,897.1 774.6,917.5 825.7,899.8 875.5,846.3" fill="none" stroke-width="3.8" stroke-linejoin="round"/><circle cx="673.3" cy="865.2" r="7.2" stroke="none"/><circle cx="725.6" cy="897.1" r="7.2" stroke="none"/><circle cx="774.6" cy="917.5" r="7.2" stroke="none"/><circle cx="825.7" cy="899.8" r="7.2" stroke="none"/><circle cx="875.5" cy="846.3" r="7.2" stroke="none"/></g>
<g stroke="#314d5d" fill="#314d5d"><polyline points="681.2,823.8 731.0,878.1" fill="none" stroke-width="3.8" stroke-linejoin="round"/><circle cx="681.2" cy="823.8" r="7.2" stroke="none"/><circle cx="731.0" cy="878.1" r="7.2" stroke="none"/></g>
<g stroke="#35596c" fill="#35596c"><polyline points="687.5,810.2 738.3,928.9" fill="none" stroke-width="3.8" stroke-linejoin="round"/><circle cx="687.5" cy="810.2" r="7.2" stroke="none"/><circle cx="738.3" cy="928.9" r="7.2" stroke="none"/></g>
<g stroke="#365c70" fill="#365c70"><polyline points="679.3,866.4 729.0,910.3 780.7,889.6 830.7,844.0" fill="none" stroke-width="3.8" stroke-linejoin="round"/><circle cx="679.3" cy="866.4" r="7.2" stroke="none"/><circle cx="729.0" cy="910.3" r="7.2" stroke="none"/><circle cx="780.7" cy="889.6" r="7.2" stroke="none"/><circle cx="830.7" cy="844.0" r="7.2" stroke="none"/></g>
<g stroke="#375f73" fill="#375f73"><polyline points="674.8,889.0 725.6,923.5 776.3,896.3" fill="none" stroke-width="3.8" stroke-linejoin="round"/><circle cx="674.8" cy="889.0" r="7.2" stroke="none"/><circle cx="725.6" cy="923.5" r="7.2" stroke="none"/><circle cx="776.3" cy="896.3" r="7.2" stroke="none"/></g>
<g stroke="#3a6a82" fill="#3a6a82"><polyline points="689.3,938.9 740.1,896.3 790.8,912.6" fill="none" stroke-width="3.8" stroke-linejoin="round"/><circle cx="689.3" cy="938.9" r="7.2" stroke="none"/><circle cx="740.1" cy="896.3" r="7.2" stroke="none"/><circle cx="790.8" cy="912.6" r="7.2" stroke="none"/></g>
<g stroke="#3b6a82" fill="#3b6a82"><polyline points="683.6,858.4 735.2,863.2 783.1,853.5" fill="none" stroke-width="3.8" stroke-linejoin="round"/><circle cx="683.6" cy="858.4" r="7.2" stroke="none"/><circle cx="735.2" cy="863.2" r="7.2" stroke="none"/><circle cx="783.1" cy="853.5" r="7.2" stroke="none"/></g>
<g stroke="#3e7590" fill="#3e7590"><polyline points="691.1,848.2 741.9,936.2 792.7,907.2 850.7,934.3" fill="none" stroke-width="3.8" stroke-linejoin="round"/><circle cx="691.1" cy="848.2" r="7.2" stroke="none"/><circle cx="741.9" cy="936.2" r="7.2" stroke="none"/><circle cx="792.7" cy="907.2" r="7.2" stroke="none"/><circle cx="850.7" cy="934.3" r="7.2" stroke="none"/></g>
<g stroke="#3f7792" fill="#3f7792"><polyline points="687.3,903.5 737.5,850.2" fill="none" stroke-width="3.8" stroke-linejoin="round"/><circle cx="687.3" cy="903.5" r="7.2" stroke="none"/><circle cx="737.5" cy="850.2" r="7.2" stroke="none"/></g>
<g stroke="#427d9a" fill="#427d9a"><polyline points="694.8,890.8 745.5,841.9 796.3,865.5 847.0,896.3" fill="none" stroke-width="3.8" stroke-linejoin="round"/><circle cx="694.8" cy="890.8" r="7.2" stroke="none"/><circle cx="745.5" cy="841.9" r="7.2" stroke="none"/><circle cx="796.3" cy="865.5" r="7.2" stroke="none"/><circle cx="847.0" cy="896.3" r="7.2" stroke="none"/></g>
<g stroke="#43819e" fill="#43819e"><polyline points="692.9,782.1 751.9,797.5 801.7,773.0 852.5,981.5 903.2,841.9" fill="none" stroke-width="3.8" stroke-linejoin="round"/><circle cx="692.9" cy="782.1" r="7.2" stroke="none"/><circle cx="751.9" cy="797.5" r="7.2" stroke="none"/><circle cx="801.7" cy="773.0" r="7.2" stroke="none"/><circle cx="852.5" cy="981.5" r="7.2" stroke="none"/><circle cx="903.2" cy="841.9" r="7.2" stroke="none"/></g>
<g stroke="#4483a1" fill="#4483a1"><polyline points="693.0,876.7 744.0,889.3 794.6,898.3" fill="none" stroke-width="3.8" stroke-linejoin="round"/><circle cx="693.0" cy="876.7" r="7.2" stroke="none"/><circle cx="744.0" cy="889.3" r="7.2" stroke="none"/><circle cx="794.6" cy="898.3" r="7.2" stroke="none"/></g>
<g stroke="#4584a2" fill="#4584a2"><polyline points="695.5,901.0 743.9,909.7 793.5,898.9" fill="none" stroke-width="3.8" stroke-linejoin="round"/><circle cx="695.5" cy="901.0" r="7.2" stroke="none"/><circle cx="743.9" cy="909.7" r="7.2" stroke="none"/><circle cx="793.5" cy="898.9" r="7.2" stroke="none"/></g>
<g stroke="#4585a3" fill="#4585a3"><polyline points="694.8,758.5 745.5,939.8 796.3,910.8" fill="none" stroke-width="3.8" stroke-linejoin="round"/><circle cx="694.8" cy="758.5" r="7.2" stroke="none"/><circle cx="745.5" cy="939.8" r="7.2" stroke="none"/><circle cx="796.3" cy="910.8" r="7.2" stroke="none"/></g>
<g stroke="#4789a8" fill="#4789a8"><polyline points="702.9,774.8 752.8,863.6 803.5,914.4 852.5,981.5 903.2,869.1" fill="none" stroke-width="3.8" stroke-linejoin="round"/><circle cx="702.9" cy="774.8" r="7.2" stroke="none"/><circle cx="752.8" cy="863.6" r="7.2" stroke="none"/><circle cx="803.5" cy="914.4" r="7.2" stroke="none"/><circle cx="852.5" cy="981.5" r="7.2" stroke="none"/><circle cx="903.2" cy="869.1" r="7.2" stroke="none"/></g>
<g stroke="#498dad" fill="#498dad"><polyline points="698.4,939.8 749.1,805.6 799.9,903.5 850.7,930.7 901.4,881.8" fill="none" stroke-width="3.8" stroke-linejoin="round"/><circle cx="698.4" cy="939.8" r="7.2" stroke="none"/><circle cx="749.1" cy="805.6" r="7.2" stroke="none"/><circle cx="799.9" cy="903.5" r="7.2" stroke="none"/><circle cx="850.7" cy="930.7" r="7.2" stroke="none"/><circle cx="901.4" cy="881.8" r="7.2" stroke="none"/></g>
<g stroke="#4b91b3" fill="#4b91b3"><polyline points="701.7,910.9 749.8,850.6 802.1,886.4 851.6,911.5 900.4,911.4" fill="none" stroke-width="3.8" stroke-linejoin="round"/><circle cx="701.7" cy="910.9" r="7.2" stroke="none"/><circle cx="749.8" cy="850.6" r="7.2" stroke="none"/><circle cx="802.1" cy="886.4" r="7.2" stroke="none"/><circle cx="851.6" cy="911.5" r="7.2" stroke="none"/><circle cx="900.4" cy="911.4" r="7.2" stroke="none"/></g>
<g stroke="#4c94b6" fill="#4c94b6"><polyline points="703.8,954.3 754.6,816.5 805.3,863.6 856.1,925.3 906.9,829.2" fill="none" stroke-width="3.8" stroke-linejoin="round"/><circle cx="703.8" cy="954.3" r="7.2" stroke="none"/><circle cx="754.6" cy="816.5" r="7.2" stroke="none"/><circle cx="805.3" cy="863.6" r="7.2" stroke="none"/><circle cx="856.1" cy="925.3" r="7.2" stroke="none"/><circle cx="906.9" cy="829.2" r="7.2" stroke="none"/></g>
<g stroke="#4f9bbf" fill="#4f9bbf"><polyline points="706.0,909.4 754.5,908.0 805.1,887.1" fill="none" stroke-width="3.8" stroke-linejoin="round"/><circle cx="706.0" cy="909.4" r="7.2" stroke="none"/><circle cx="754.5" cy="908.0" r="7.2" stroke="none"/><circle cx="805.1" cy="887.1" r="7.2" stroke="none"/></g>
<g stroke="#4f9cc0" fill="#4f9cc0"><polyline points="705.6,792.9 756.4,950.7 807.2,887.2 865.2,831.0 914.1,852.8" fill="none" stroke-width="3.8" stroke-linejoin="round"/><circle cx="705.6" cy="792.9" r="7.2" stroke="none"/><circle cx="756.4" cy="950.7" r="7.2" stroke="none"/><circle cx="807.2" cy="887.2" r="7.2" stroke="none"/><circle cx="865.2" cy="831.0" r="7.2" stroke="none"/><circle cx="914.1" cy="852.8" r="7.2" stroke="none"/></g>
<g stroke="#4f9dc1" fill="#4f9dc1"><polyline points="705.3,885.6 756.0,912.7 808.1,913.8" fill="none" stroke-width="3.8" stroke-linejoin="round"/><circle cx="705.3" cy="885.6" r="7.2" stroke="none"/><circle cx="756.0" cy="912.7" r="7.2" stroke="none"/><circle cx="808.1" cy="913.8" r="7.2" stroke="none"/></g>
<g stroke="#509ec3" fill="#509ec3"><polyline points="708.3,889.1 758.4,879.2" fill="none" stroke-width="3.8" stroke-linejoin="round"/><circle cx="708.3" cy="889.1" r="7.2" stroke="none"/><circle cx="758.4" cy="879.2" r="7.2" stroke="none"/></g>
<g stroke="#509fc4" fill="#509fc4"><polyline points="707.7,895.3 758.9,883.0 808.0,853.0" fill="none" stroke-width="3.8" stroke-linejoin="round"/><circle cx="707.7" cy="895.3" r="7.2" stroke="none"/><circle cx="758.9" cy="883.0" r="7.2" stroke="none"/><circle cx="808.0" cy="853.0" r="7.2" stroke="none"/></g>
<g stroke="#509fc4" fill="#509fc4"><polyline points="709.3,860.0 760.0,892.7 810.8,925.3 861.5,899.9 912.3,847.3" fill="none" stroke-width="3.8" stroke-linejoin="round"/><circle cx="709.3" cy="860.0" r="7.2" stroke="none"/><circle cx="760.0" cy="892.7" r="7.2" stroke="none"/><circle cx="810.8" cy="925.3" r="7.2" stroke="none"/><circle cx="861.5" cy="899.9" r="7.2" stroke="none"/><circle cx="912.3" cy="847.3" r="7.2" stroke="none"/></g>
<g stroke="#51a2c8" fill="#51a2c8"><polyline points="709.3,849.1 760.0,952.5 810.8,919.8 859.7,1030.4 910.5,802.0" fill="none" stroke-width="3.8" stroke-linejoin="round"/><circle cx="709.3" cy="849.1" r="7.2" stroke="none"/><circle cx="760.0" cy="952.5" r="7.2" stroke="none"/><circle cx="810.8" cy="919.8" r="7.2" stroke="none"/><circle cx="859.7" cy="1030.4" r="7.2" stroke="none"/><circle cx="910.5" cy="802.0" r="7.2" stroke="none"/></g>
<g stroke="#53a4cb" fill="#53a4cb"><polyline points="712.0,780.3 762.7,841.9 813.5,928.9 867.0,851.0 915.9,963.3" fill="none" stroke-width="3.8" stroke-linejoin="round"/><circle cx="712.0" cy="780.3" r="7.2" stroke="none"/><circle cx="762.7" cy="841.9" r="7.2" stroke="none"/><circle cx="813.5" cy="928.9" r="7.2" stroke="none"/><circle cx="867.0" cy="851.0" r="7.2" stroke="none"/><circle cx="915.9" cy="963.3" r="7.2" stroke="none"/></g>
<g stroke="#54a7cf" fill="#54a7cf"><polyline points="712.9,728.6 763.3,954.3" fill="none" stroke-width="3.8" stroke-linejoin="round"/><circle cx="712.9" cy="728.6" r="7.2" stroke="none"/><circle cx="763.3" cy="954.3" r="7.2" stroke="none"/></g>
<g stroke="#55aad3" fill="#55aad3"><polyline points="714.7,883.6 765.5,860.0 816.2,898.1 867.0,916.2 917.7,883.6" fill="none" stroke-width="3.8" stroke-linejoin="round"/><circle cx="714.7" cy="883.6" r="7.2" stroke="none"/><circle cx="765.5" cy="860.0" r="7.2" stroke="none"/><circle cx="816.2" cy="898.1" r="7.2" stroke="none"/><circle cx="867.0" cy="916.2" r="7.2" stroke="none"/><circle cx="917.7" cy="883.6" r="7.2" stroke="none"/></g>
<g stroke="#56acd6" fill="#56acd6"><polyline points="716.5,943.4 769.1,959.7 818.0,874.5 868.8,912.6 919.5,841.9" fill="none" stroke-width="3.8" stroke-linejoin="round"/><circle cx="716.5" cy="943.4" r="7.2" stroke="none"/><circle cx="769.1" cy="959.7" r="7.2" stroke="none"/><circle cx="818.0" cy="874.5" r="7.2" stroke="none"/><circle cx="868.8" cy="912.6" r="7.2" stroke="none"/><circle cx="919.5" cy="841.9" r="7.2" stroke="none"/></g>
<g stroke="#56acd6" fill="#56acd6"><polyline points="717.4,798.4 768.2,909.0 818.0,865.5 870.6,896.3 921.4,878.1" fill="none" stroke-width="3.8" stroke-linejoin="round"/><circle cx="717.4" cy="798.4" r="7.2" stroke="none"/><circle cx="768.2" cy="909.0" r="7.2" stroke="none"/><circle cx="818.0" cy="865.5" r="7.2" stroke="none"/><circle cx="870.6" cy="896.3" r="7.2" stroke="none"/><circle cx="921.4" cy="878.1" r="7.2" stroke="none"/></g>
<g stroke="#58b0dc" fill="#58b0dc"><polyline points="719.2,869.1 770.9,916.2 819.8,752.2 868.8,825.6 921.4,950.7" fill="none" stroke-width="3.8" stroke-linejoin="round"/><circle cx="719.2" cy="869.1" r="7.2" stroke="none"/><circle cx="770.9" cy="916.2" r="7.2" stroke="none"/><circle cx="819.8" cy="752.2" r="7.2" stroke="none"/><circle cx="868.8" cy="825.6" r="7.2" stroke="none"/><circle cx="921.4" cy="950.7" r="7.2" stroke="none"/></g>
<g stroke="#58b1de" fill="#58b1de"><polyline points="720.1,841.9 770.9,910.8 825.3,843.7 876.0,945.2 925.0,831.0" fill="none" stroke-width="3.8" stroke-linejoin="round"/><circle cx="720.1" cy="841.9" r="7.2" stroke="none"/><circle cx="770.9" cy="910.8" r="7.2" stroke="none"/><circle cx="825.3" cy="843.7" r="7.2" stroke="none"/><circle cx="876.0" cy="945.2" r="7.2" stroke="none"/><circle cx="925.0" cy="831.0" r="7.2" stroke="none"/></g>
<g stroke="#59b3e1" fill="#59b3e1"><polyline points="722.0,928.9 772.7,878.1 823.5,905.3 874.2,907.2 925.0,869.1" fill="none" stroke-width="3.8" stroke-linejoin="round"/><circle cx="722.0" cy="928.9" r="7.2" stroke="none"/><circle cx="772.7" cy="878.1" r="7.2" stroke="none"/><circle cx="823.5" cy="905.3" r="7.2" stroke="none"/><circle cx="874.2" cy="907.2" r="7.2" stroke="none"/><circle cx="925.0" cy="869.1" r="7.2" stroke="none"/></g>
<g stroke="#5ab6e4" fill="#5ab6e4"><polyline points="723.8,823.8 772.7,798.4 823.5,927.1 872.4,852.8 923.2,892.7" fill="none" stroke-width="3.8" stroke-linejoin="round"/><circle cx="723.8" cy="823.8" r="7.2" stroke="none"/><circle cx="772.7" cy="798.4" r="7.2" stroke="none"/><circle cx="823.5" cy="927.1" r="7.2" stroke="none"/><circle cx="872.4" cy="852.8" r="7.2" stroke="none"/><circle cx="923.2" cy="892.7" r="7.2" stroke="none"/></g>
<g stroke="#5ab6e4" fill="#5ab6e4"><polyline points="724.7,822.0 769.1,901.7 821.7,883.6 872.4,890.8 923.2,885.4" fill="none" stroke-width="3.8" stroke-linejoin="round"/><circle cx="724.7" cy="822.0" r="7.2" stroke="none"/><circle cx="769.1" cy="901.7" r="7.2" stroke="none"/><circle cx="821.7" cy="883.6" r="7.2" stroke="none"/><circle cx="872.4" cy="890.8" r="7.2" stroke="none"/><circle cx="923.2" cy="885.4" r="7.2" stroke="none"/></g>
</g>
<path d="M618.90 719.30V1051.10H922.30" fill="none" stroke="#222" stroke-width="3.4" stroke-linejoin="miter"/>
<path d="M644.00 1051.10v14.6M694.30 1051.10v14.6M744.60 1051.10v14.6M795.10 1051.10v14.6M845.40 1051.10v14.6M895.40 1051.10v14.6" fill="none" stroke="#222" stroke-width="2.9"/>
<text transform="translate(644.00 1093.50) scale(1.0000 1)" font-size="25.60" text-anchor="middle" fill="#111">0</text>
<text transform="translate(694.30 1093.50) scale(1.0000 1)" font-size="25.60" text-anchor="middle" fill="#111">10</text>
<text transform="translate(744.60 1093.50) scale(1.0000 1)" font-size="25.60" text-anchor="middle" fill="#111">0</text>
<text transform="translate(794.30 1095.50) scale(1.0000 1)" font-size="25.60" text-anchor="middle" fill="#111">10</text>
<text transform="translate(845.40 1093.50) scale(1.0000 1)" font-size="25.60" text-anchor="middle" fill="#111">0</text>
<text transform="translate(895.40 1093.50) scale(1.0000 1)" font-size="25.60" text-anchor="middle" fill="#111">10</text>
<rect x="645.80" y="1101.25" width="88.30" height="30.00" fill="#B9B9B9"/>
<text transform="translate(689.95 1124.50) scale(1.0000 1)" font-size="25.60" text-anchor="middle" fill="#111">7</text>
<rect x="743.30" y="1101.25" width="86.70" height="30.00" fill="#B9B9B9"/>
<text transform="translate(786.65 1124.50) scale(1.0000 1)" font-size="25.60" text-anchor="middle" fill="#111">8</text>
<rect x="842.00" y="1101.25" width="86.30" height="30.00" fill="#B9B9B9"/>
<text transform="translate(885.15 1124.50) scale(1.0000 1)" font-size="25.60" text-anchor="middle" fill="#111">9</text>
<text transform="translate(579.73 1093.50) scale(1.0016 1)" font-size="25.6" fill="#111">ZT</text>
<text transform="translate(578.00 1127.80) scale(1.0000 1)" font-size="25.60" text-anchor="start" fill="#111">dpf</text>
<rect x="960.50" y="357.00" width="19.80" height="331.40" fill="#FAF6DE"/>
<path d="M961.35 357.00V688.40M979.45 357.00V688.40" stroke="#F5EFC8" stroke-width="1.7" fill="none"/>
<rect x="1044.30" y="357.00" width="36.80" height="331.40" fill="#FAF6DE"/>
<path d="M1045.15 357.00V688.40M1080.25 357.00V688.40" stroke="#F5EFC8" stroke-width="1.7" fill="none"/>
<rect x="1145.40" y="357.00" width="36.70" height="331.40" fill="#FAF6DE"/>
<path d="M1146.25 357.00V688.40M1181.25 357.00V688.40" stroke="#F5EFC8" stroke-width="1.7" fill="none"/>
<rect x="1246.00" y="357.00" width="15.70" height="331.40" fill="#FAF6DE"/>
<path d="M1246.85 357.00V688.40M1260.85 357.00V688.40" stroke="#F5EFC8" stroke-width="1.7" fill="none"/>
<clipPath id="cb3"><rect x="959.40" y="340.00" width="304.30" height="348.40"/></clipPath>
<g clip-path="url(#cb3)">
<g stroke="#6b6b45" fill="#6b6b45"><polyline points="970.4,614.9 1021.3,595.6 1075.2,587.9 1125.3,555.6 1173.8,581.7" fill="none" stroke-width="4.4" stroke-linejoin="round"/><circle cx="970.4" cy="614.9" r="7.4" stroke="none"/><circle cx="1021.3" cy="595.6" r="7.4" stroke="none"/><circle cx="1075.2" cy="587.9" r="7.4" stroke="none"/><circle cx="1125.3" cy="555.6" r="7.4" stroke="none"/><circle cx="1173.8" cy="581.7" r="7.4" stroke="none"/></g>
<g stroke="#2b2428" fill="#2b2428"><polyline points="973.5,618.7 1023.6,590.2 1074.4,583.3 1124.5,554.0 1174.6,579.4 1224.6,572.5" fill="none" stroke-width="4.4" stroke-linejoin="round"/><circle cx="973.5" cy="618.7" r="7.4" stroke="none"/><circle cx="1023.6" cy="590.2" r="7.4" stroke="none"/><circle cx="1074.4" cy="583.3" r="7.4" stroke="none"/><circle cx="1124.5" cy="554.0" r="7.4" stroke="none"/><circle cx="1174.6" cy="579.4" r="7.4" stroke="none"/><circle cx="1224.6" cy="572.5" r="7.4" stroke="none"/></g>
<g stroke="#3d2a36" fill="#3d2a36"><polyline points="973.5,620.3 1025.1,631.1 1076.7,626.4 1126.0,644.9 1176.9,637.2 1227.7,618.7" fill="none" stroke-width="4.4" stroke-linejoin="round"/><circle cx="973.5" cy="620.3" r="7.4" stroke="none"/><circle cx="1025.1" cy="631.1" r="7.4" stroke="none"/><circle cx="1076.7" cy="626.4" r="7.4" stroke="none"/><circle cx="1126.0" cy="644.9" r="7.4" stroke="none"/><circle cx="1176.9" cy="637.2" r="7.4" stroke="none"/><circle cx="1227.7" cy="618.7" r="7.4" stroke="none"/></g>
<g stroke="#4a3341" fill="#4a3341"><polyline points="975.0,628.0 1027.4,644.9 1078.3,646.5 1129.1,646.5 1178.4,626.4 1230.8,636.4" fill="none" stroke-width="4.4" stroke-linejoin="round"/><circle cx="975.0" cy="628.0" r="7.4" stroke="none"/><circle cx="1027.4" cy="644.9" r="7.4" stroke="none"/><circle cx="1078.3" cy="646.5" r="7.4" stroke="none"/><circle cx="1129.1" cy="646.5" r="7.4" stroke="none"/><circle cx="1178.4" cy="626.4" r="7.4" stroke="none"/><circle cx="1230.8" cy="636.4" r="7.4" stroke="none"/></g>
<g stroke="#5a3d51" fill="#5a3d51"><polyline points="978.1,584.1 1029.0,587.9 1079.8,623.3 1126.0,587.9 1180.0,624.9 1227.7,620.3" fill="none" stroke-width="4.4" stroke-linejoin="round"/><circle cx="978.1" cy="584.1" r="7.4" stroke="none"/><circle cx="1029.0" cy="587.9" r="7.4" stroke="none"/><circle cx="1079.8" cy="623.3" r="7.4" stroke="none"/><circle cx="1126.0" cy="587.9" r="7.4" stroke="none"/><circle cx="1180.0" cy="624.9" r="7.4" stroke="none"/><circle cx="1227.7" cy="620.3" r="7.4" stroke="none"/></g>
<g stroke="#674660" fill="#674660"><polyline points="978.9,466.5 1029.7,493.2 1080.1,465.4" fill="none" stroke-width="4.4" stroke-linejoin="round"/><circle cx="978.9" cy="466.5" r="7.4" stroke="none"/><circle cx="1029.7" cy="493.2" r="7.4" stroke="none"/><circle cx="1080.1" cy="465.4" r="7.4" stroke="none"/></g>
<g stroke="#7a5270" fill="#7a5270"><polyline points="1085.2,480.8 1186.1,531.7" fill="none" stroke-width="6.5" stroke-linecap="round" stroke-dasharray="0.1 13.85"/></g>
<g stroke="#674660" fill="#674660"><polyline points="1180.7,511.6 1231.6,508.3" fill="none" stroke-width="4.4" stroke-linejoin="round"/><circle cx="1180.7" cy="511.6" r="7.4" stroke="none"/><circle cx="1231.6" cy="508.3" r="7.4" stroke="none"/></g>
<g stroke="#7a5270" fill="#7a5270"><polyline points="981.2,606.4 1032.0,595.6 1082.9,620.3 1133.7,646.5 1184.6,587.9 1235.4,609.5" fill="none" stroke-width="4.4" stroke-linejoin="round"/><circle cx="981.2" cy="606.4" r="7.4" stroke="none"/><circle cx="1032.0" cy="595.6" r="7.4" stroke="none"/><circle cx="1082.9" cy="620.3" r="7.4" stroke="none"/><circle cx="1133.7" cy="646.5" r="7.4" stroke="none"/><circle cx="1184.6" cy="587.9" r="7.4" stroke="none"/><circle cx="1235.4" cy="609.5" r="7.4" stroke="none"/></g>
<g stroke="#8a5d7c" fill="#8a5d7c"><polyline points="984.6,483.9 1035.1,558.6 1086.0,530.9 1136.0,505.5 1186.1,564.8 1237.0,531.7" fill="none" stroke-width="4.4" stroke-linejoin="round"/><circle cx="984.6" cy="483.9" r="7.4" stroke="none"/><circle cx="1035.1" cy="558.6" r="7.4" stroke="none"/><circle cx="1086.0" cy="530.9" r="7.4" stroke="none"/><circle cx="1136.0" cy="505.5" r="7.4" stroke="none"/><circle cx="1186.1" cy="564.8" r="7.4" stroke="none"/><circle cx="1237.0" cy="531.7" r="7.4" stroke="none"/></g>
<g stroke="#8a5d7c" fill="#8a5d7c"><polyline points="982.7,601.8 1035.1,592.5 1086.0,577.1 1136.8,601.8 1187.7,612.6 1238.5,586.4" fill="none" stroke-width="4.4" stroke-linejoin="round"/><circle cx="982.7" cy="601.8" r="7.4" stroke="none"/><circle cx="1035.1" cy="592.5" r="7.4" stroke="none"/><circle cx="1086.0" cy="577.1" r="7.4" stroke="none"/><circle cx="1136.8" cy="601.8" r="7.4" stroke="none"/><circle cx="1187.7" cy="612.6" r="7.4" stroke="none"/><circle cx="1238.5" cy="586.4" r="7.4" stroke="none"/></g>
<g stroke="#9a6689" fill="#9a6689"><polyline points="985.8,584.8 1038.2,580.2 1089.0,594.1 1138.3,609.5 1189.2,601.8 1240.0,592.5" fill="none" stroke-width="4.4" stroke-linejoin="round"/><circle cx="985.8" cy="584.8" r="7.4" stroke="none"/><circle cx="1038.2" cy="580.2" r="7.4" stroke="none"/><circle cx="1089.0" cy="594.1" r="7.4" stroke="none"/><circle cx="1138.3" cy="609.5" r="7.4" stroke="none"/><circle cx="1189.2" cy="601.8" r="7.4" stroke="none"/><circle cx="1240.0" cy="592.5" r="7.4" stroke="none"/></g>
<g stroke="#a96f95" fill="#a96f95"><polyline points="991.2,572.5 1042.1,559.4 1092.1,563.3 1139.9,538.6 1192.3,565.6" fill="none" stroke-width="4.4" stroke-linejoin="round"/><circle cx="991.2" cy="572.5" r="7.4" stroke="none"/><circle cx="1042.1" cy="559.4" r="7.4" stroke="none"/><circle cx="1092.1" cy="563.3" r="7.4" stroke="none"/><circle cx="1139.9" cy="538.6" r="7.4" stroke="none"/><circle cx="1192.3" cy="565.6" r="7.4" stroke="none"/></g>
<g stroke="#a96f95" fill="#a96f95"><polyline points="988.1,592.5 1040.5,563.3 1090.6,567.9 1141.4,597.2 1190.7,631.1 1241.6,624.9" fill="none" stroke-width="4.4" stroke-linejoin="round"/><circle cx="988.1" cy="592.5" r="7.4" stroke="none"/><circle cx="1040.5" cy="563.3" r="7.4" stroke="none"/><circle cx="1090.6" cy="567.9" r="7.4" stroke="none"/><circle cx="1141.4" cy="597.2" r="7.4" stroke="none"/><circle cx="1190.7" cy="631.1" r="7.4" stroke="none"/><circle cx="1241.6" cy="624.9" r="7.4" stroke="none"/></g>
<g stroke="#b97aa1" fill="#b97aa1"><polyline points="990.4,595.6 1042.8,603.3 1093.7,638.8 1143.0,606.4 1193.0,607.9" fill="none" stroke-width="4.4" stroke-linejoin="round"/><circle cx="990.4" cy="595.6" r="7.4" stroke="none"/><circle cx="1042.8" cy="603.3" r="7.4" stroke="none"/><circle cx="1093.7" cy="638.8" r="7.4" stroke="none"/><circle cx="1143.0" cy="606.4" r="7.4" stroke="none"/><circle cx="1193.0" cy="607.9" r="7.4" stroke="none"/></g>
<g stroke="#c984ae" fill="#c984ae"><polyline points="993.5,591.0 1044.4,618.7 1095.2,595.6 1146.1,631.1" fill="none" stroke-width="4.4" stroke-linejoin="round"/><circle cx="993.5" cy="591.0" r="7.4" stroke="none"/><circle cx="1044.4" cy="618.7" r="7.4" stroke="none"/><circle cx="1095.2" cy="595.6" r="7.4" stroke="none"/><circle cx="1146.1" cy="631.1" r="7.4" stroke="none"/></g>
<g stroke="#d48ab5" fill="#d48ab5"><polyline points="992.7,648.0 1043.6,651.9 1093.7,638.8 1144.5,632.6" fill="none" stroke-width="4.4" stroke-linejoin="round"/><circle cx="992.7" cy="648.0" r="7.4" stroke="none"/><circle cx="1043.6" cy="651.9" r="7.4" stroke="none"/><circle cx="1093.7" cy="638.8" r="7.4" stroke="none"/><circle cx="1144.5" cy="632.6" r="7.4" stroke="none"/></g>
<g stroke="#dc8eb9" fill="#dc8eb9"><polyline points="994.3,592.5 1045.1,604.9 1096.0,607.9 1146.1,628.0 1196.9,629.5 1246.2,625.7" fill="none" stroke-width="4.4" stroke-linejoin="round"/><circle cx="994.3" cy="592.5" r="7.4" stroke="none"/><circle cx="1045.1" cy="604.9" r="7.4" stroke="none"/><circle cx="1096.0" cy="607.9" r="7.4" stroke="none"/><circle cx="1146.1" cy="628.0" r="7.4" stroke="none"/><circle cx="1196.9" cy="629.5" r="7.4" stroke="none"/><circle cx="1246.2" cy="625.7" r="7.4" stroke="none"/></g>
<g stroke="#dc8eb9" fill="#dc8eb9"><polyline points="995.1,591.8 1045.9,619.5 1096.7,603.3 1143.7,587.9 1195.4,603.3 1247.7,571.0" fill="none" stroke-width="4.4" stroke-linejoin="round"/><circle cx="995.1" cy="591.8" r="7.4" stroke="none"/><circle cx="1045.9" cy="619.5" r="7.4" stroke="none"/><circle cx="1096.7" cy="603.3" r="7.4" stroke="none"/><circle cx="1143.7" cy="587.9" r="7.4" stroke="none"/><circle cx="1195.4" cy="603.3" r="7.4" stroke="none"/><circle cx="1247.7" cy="571.0" r="7.4" stroke="none"/></g>
<g stroke="#dc8eb9" fill="#dc8eb9"><polyline points="995.8,535.5 1047.1,498.2 1097.5,529.4 1148.4,559.4 1198.4,575.6 1249.3,540.9" fill="none" stroke-width="4.4" stroke-linejoin="round"/><circle cx="995.8" cy="535.5" r="7.4" stroke="none"/><circle cx="1047.1" cy="498.2" r="7.4" stroke="none"/><circle cx="1097.5" cy="529.4" r="7.4" stroke="none"/><circle cx="1148.4" cy="559.4" r="7.4" stroke="none"/><circle cx="1198.4" cy="575.6" r="7.4" stroke="none"/><circle cx="1249.3" cy="540.9" r="7.4" stroke="none"/></g>
</g>
<path d="M959.40 355.20V688.40H1263.20" fill="none" stroke="#222" stroke-width="2.8" stroke-linejoin="miter"/>
<text transform="translate(1180.67 380.40) scale(1.0255 1)" font-size="27.5" fill="#111">n = 19</text>
<rect x="960.50" y="721.00" width="19.80" height="330.10" fill="#FAF6DE"/>
<path d="M961.35 721.00V1051.10M979.45 721.00V1051.10" stroke="#F5EFC8" stroke-width="1.7" fill="none"/>
<rect x="1044.30" y="721.00" width="36.80" height="330.10" fill="#FAF6DE"/>
<path d="M1045.15 721.00V1051.10M1080.25 721.00V1051.10" stroke="#F5EFC8" stroke-width="1.7" fill="none"/>
<rect x="1145.40" y="721.00" width="36.70" height="330.10" fill="#FAF6DE"/>
<path d="M1146.25 721.00V1051.10M1181.25 721.00V1051.10" stroke="#F5EFC8" stroke-width="1.7" fill="none"/>
<rect x="1246.00" y="721.00" width="15.70" height="330.10" fill="#FAF6DE"/>
<path d="M1246.85 721.00V1051.10M1260.85 721.00V1051.10" stroke="#F5EFC8" stroke-width="1.7" fill="none"/>
<clipPath id="cc3"><rect x="959.40" y="700.00" width="304.30" height="351.10"/></clipPath>
<g clip-path="url(#cc3)">
<g stroke="#6b6b45" fill="#6b6b45"><polyline points="1023.6,866.3 1072.9,854.0 1123.7,887.9 1173.8,924.1" fill="none" stroke-width="3.8" stroke-linejoin="round"/><circle cx="1023.6" cy="866.3" r="7.2" stroke="none"/><circle cx="1072.9" cy="854.0" r="7.2" stroke="none"/><circle cx="1123.7" cy="887.9" r="7.2" stroke="none"/><circle cx="1173.8" cy="924.1" r="7.2" stroke="none"/></g>
<g stroke="#2b2428" fill="#2b2428"><polyline points="1022.8,854.0 1074.4,909.4 1123.7,823.9 1175.3,850.9 1226.2,878.6" fill="none" stroke-width="3.8" stroke-linejoin="round"/><circle cx="1022.8" cy="854.0" r="7.2" stroke="none"/><circle cx="1074.4" cy="909.4" r="7.2" stroke="none"/><circle cx="1123.7" cy="823.9" r="7.2" stroke="none"/><circle cx="1175.3" cy="850.9" r="7.2" stroke="none"/><circle cx="1226.2" cy="878.6" r="7.2" stroke="none"/></g>
<g stroke="#3d2a36" fill="#3d2a36"><polyline points="1024.3,887.1 1075.2,840.1 1125.3,930.2 1175.3,851.6 1225.4,836.2" fill="none" stroke-width="3.8" stroke-linejoin="round"/><circle cx="1024.3" cy="887.1" r="7.2" stroke="none"/><circle cx="1075.2" cy="840.1" r="7.2" stroke="none"/><circle cx="1125.3" cy="930.2" r="7.2" stroke="none"/><circle cx="1175.3" cy="851.6" r="7.2" stroke="none"/><circle cx="1225.4" cy="836.2" r="7.2" stroke="none"/></g>
<g stroke="#3d2a36" fill="#3d2a36"><polyline points="1022.8,919.4 1073.6,878.6 1126.0,951.8 1176.9,870.9 1226.9,835.5" fill="none" stroke-width="3.8" stroke-linejoin="round"/><circle cx="1022.8" cy="919.4" r="7.2" stroke="none"/><circle cx="1073.6" cy="878.6" r="7.2" stroke="none"/><circle cx="1126.0" cy="951.8" r="7.2" stroke="none"/><circle cx="1176.9" cy="870.9" r="7.2" stroke="none"/><circle cx="1226.9" cy="835.5" r="7.2" stroke="none"/></g>
<g stroke="#4a3341" fill="#4a3341"><polyline points="1028.2,926.4 1078.3,919.4 1127.6,841.6 1178.4,872.4 1230.8,911.7" fill="none" stroke-width="3.8" stroke-linejoin="round"/><circle cx="1028.2" cy="926.4" r="7.2" stroke="none"/><circle cx="1078.3" cy="919.4" r="7.2" stroke="none"/><circle cx="1127.6" cy="841.6" r="7.2" stroke="none"/><circle cx="1178.4" cy="872.4" r="7.2" stroke="none"/><circle cx="1230.8" cy="911.7" r="7.2" stroke="none"/></g>
<g stroke="#5a3d51" fill="#5a3d51"><polyline points="1027.1,810.8 1077.5,918.7 1128.3,878.6 1179.2,833.2 1230.0,884.8" fill="none" stroke-width="3.8" stroke-linejoin="round"/><circle cx="1027.1" cy="810.8" r="7.2" stroke="none"/><circle cx="1077.5" cy="918.7" r="7.2" stroke="none"/><circle cx="1128.3" cy="878.6" r="7.2" stroke="none"/><circle cx="1179.2" cy="833.2" r="7.2" stroke="none"/><circle cx="1230.0" cy="884.8" r="7.2" stroke="none"/></g>
<g stroke="#7a5270" fill="#7a5270"><polyline points="1029.0,906.3 1079.8,935.6 1130.6,832.4 1181.5,822.4 1232.3,894.0" fill="none" stroke-width="3.8" stroke-linejoin="round"/><circle cx="1029.0" cy="906.3" r="7.2" stroke="none"/><circle cx="1079.8" cy="935.6" r="7.2" stroke="none"/><circle cx="1130.6" cy="832.4" r="7.2" stroke="none"/><circle cx="1181.5" cy="822.4" r="7.2" stroke="none"/><circle cx="1232.3" cy="894.0" r="7.2" stroke="none"/></g>
<g stroke="#8a5d7c" fill="#8a5d7c"><polyline points="1034.3,964.1 1085.2,841.6 1136.0,903.3 1186.1,955.6 1237.0,869.4" fill="none" stroke-width="3.8" stroke-linejoin="round"/><circle cx="1034.3" cy="964.1" r="7.2" stroke="none"/><circle cx="1085.2" cy="841.6" r="7.2" stroke="none"/><circle cx="1136.0" cy="903.3" r="7.2" stroke="none"/><circle cx="1186.1" cy="955.6" r="7.2" stroke="none"/><circle cx="1237.0" cy="869.4" r="7.2" stroke="none"/></g>
<g stroke="#8a5d7c" fill="#8a5d7c"><polyline points="1032.0,860.1 1084.4,968.7 1135.3,906.3 1185.3,869.4 1235.4,886.3" fill="none" stroke-width="3.8" stroke-linejoin="round"/><circle cx="1032.0" cy="860.1" r="7.2" stroke="none"/><circle cx="1084.4" cy="968.7" r="7.2" stroke="none"/><circle cx="1135.3" cy="906.3" r="7.2" stroke="none"/><circle cx="1185.3" cy="869.4" r="7.2" stroke="none"/><circle cx="1235.4" cy="886.3" r="7.2" stroke="none"/></g>
<g stroke="#a06c90" fill="#a06c90"><polyline points="1038.2,915.6 1089.0,944.9 1139.9,838.5 1190.7,968.7 1241.6,877.1" fill="none" stroke-width="3.8" stroke-linejoin="round"/><circle cx="1038.2" cy="915.6" r="7.2" stroke="none"/><circle cx="1089.0" cy="944.9" r="7.2" stroke="none"/><circle cx="1139.9" cy="838.5" r="7.2" stroke="none"/><circle cx="1190.7" cy="968.7" r="7.2" stroke="none"/><circle cx="1241.6" cy="877.1" r="7.2" stroke="none"/></g>
<g stroke="#a06c90" fill="#a06c90"><polyline points="1039.0,852.4 1089.8,943.3 1140.7,875.5 1190.7,903.3 1235.4,827.8" fill="none" stroke-width="3.8" stroke-linejoin="round"/><circle cx="1039.0" cy="852.4" r="7.2" stroke="none"/><circle cx="1089.8" cy="943.3" r="7.2" stroke="none"/><circle cx="1140.7" cy="875.5" r="7.2" stroke="none"/><circle cx="1190.7" cy="903.3" r="7.2" stroke="none"/><circle cx="1235.4" cy="827.8" r="7.2" stroke="none"/></g>
<g stroke="#b97aa1" fill="#b97aa1"><polyline points="1040.5,866.3 1090.6,890.9 1141.4,872.4 1192.3,860.1 1243.1,875.5" fill="none" stroke-width="3.8" stroke-linejoin="round"/><circle cx="1040.5" cy="866.3" r="7.2" stroke="none"/><circle cx="1090.6" cy="890.9" r="7.2" stroke="none"/><circle cx="1141.4" cy="872.4" r="7.2" stroke="none"/><circle cx="1192.3" cy="860.1" r="7.2" stroke="none"/><circle cx="1243.1" cy="875.5" r="7.2" stroke="none"/></g>
<g stroke="#b97aa1" fill="#b97aa1"><polyline points="1041.3,898.6 1092.1,866.3 1143.0,923.3 1193.0,837.8 1243.9,872.4" fill="none" stroke-width="3.8" stroke-linejoin="round"/><circle cx="1041.3" cy="898.6" r="7.2" stroke="none"/><circle cx="1092.1" cy="866.3" r="7.2" stroke="none"/><circle cx="1143.0" cy="923.3" r="7.2" stroke="none"/><circle cx="1193.0" cy="837.8" r="7.2" stroke="none"/><circle cx="1243.9" cy="872.4" r="7.2" stroke="none"/></g>
<g stroke="#cc86b2" fill="#cc86b2"><polyline points="1039.7,863.2 1093.7,920.2 1143.7,863.2 1194.6,917.1 1244.7,870.9" fill="none" stroke-width="3.8" stroke-linejoin="round"/><circle cx="1039.7" cy="863.2" r="7.2" stroke="none"/><circle cx="1093.7" cy="920.2" r="7.2" stroke="none"/><circle cx="1143.7" cy="863.2" r="7.2" stroke="none"/><circle cx="1194.6" cy="917.1" r="7.2" stroke="none"/><circle cx="1244.7" cy="870.9" r="7.2" stroke="none"/></g>
<g stroke="#d48ab5" fill="#d48ab5"><polyline points="1044.4,904.8 1095.2,887.9 1144.5,924.8 1195.4,912.5 1247.7,829.3" fill="none" stroke-width="3.8" stroke-linejoin="round"/><circle cx="1044.4" cy="904.8" r="7.2" stroke="none"/><circle cx="1095.2" cy="887.9" r="7.2" stroke="none"/><circle cx="1144.5" cy="924.8" r="7.2" stroke="none"/><circle cx="1195.4" cy="912.5" r="7.2" stroke="none"/><circle cx="1247.7" cy="829.3" r="7.2" stroke="none"/></g>
<g stroke="#dc8eb9" fill="#dc8eb9"><polyline points="1042.8,895.6 1094.4,886.3 1145.3,854.0 1196.1,908.7 1248.5,826.2" fill="none" stroke-width="3.8" stroke-linejoin="round"/><circle cx="1042.8" cy="895.6" r="7.2" stroke="none"/><circle cx="1094.4" cy="886.3" r="7.2" stroke="none"/><circle cx="1145.3" cy="854.0" r="7.2" stroke="none"/><circle cx="1196.1" cy="908.7" r="7.2" stroke="none"/><circle cx="1248.5" cy="826.2" r="7.2" stroke="none"/></g>
<g stroke="#dc8eb9" fill="#dc8eb9"><polyline points="1045.9,932.5 1096.0,830.1 1146.1,945.6" fill="none" stroke-width="3.8" stroke-linejoin="round"/><circle cx="1045.9" cy="932.5" r="7.2" stroke="none"/><circle cx="1096.0" cy="830.1" r="7.2" stroke="none"/><circle cx="1146.1" cy="945.6" r="7.2" stroke="none"/></g>
<g stroke="#dc8eb9" fill="#dc8eb9"><polyline points="1047.1,839.3 1096.7,920.2 1147.6,923.3 1196.9,915.6 1246.2,815.4" fill="none" stroke-width="3.8" stroke-linejoin="round"/><circle cx="1047.1" cy="839.3" r="7.2" stroke="none"/><circle cx="1096.7" cy="920.2" r="7.2" stroke="none"/><circle cx="1147.6" cy="923.3" r="7.2" stroke="none"/><circle cx="1196.9" cy="915.6" r="7.2" stroke="none"/><circle cx="1246.2" cy="815.4" r="7.2" stroke="none"/></g>
</g>
<path d="M959.40 719.30V1051.10H1263.20" fill="none" stroke="#222" stroke-width="2.8" stroke-linejoin="miter"/>
<path d="M984.80 1051.10v14.6M1035.00 1051.10v14.6M1085.60 1051.10v14.6M1135.60 1051.10v14.6M1186.40 1051.10v14.6M1236.70 1051.10v14.6" fill="none" stroke="#222" stroke-width="3.0"/>
<text transform="translate(984.80 1093.50) scale(1.0000 1)" font-size="25.60" text-anchor="middle" fill="#111">0</text>
<text transform="translate(1035.00 1093.50) scale(1.0000 1)" font-size="25.60" text-anchor="middle" fill="#111">10</text>
<text transform="translate(1085.60 1093.50) scale(1.0000 1)" font-size="25.60" text-anchor="middle" fill="#111">0</text>
<text transform="translate(1134.80 1095.50) scale(1.0000 1)" font-size="25.60" text-anchor="middle" fill="#111">10</text>
<text transform="translate(1186.40 1093.50) scale(1.0000 1)" font-size="25.60" text-anchor="middle" fill="#111">0</text>
<text transform="translate(1236.70 1093.50) scale(1.0000 1)" font-size="25.60" text-anchor="middle" fill="#111">10</text>
<rect x="985.30" y="1101.25" width="87.80" height="30.00" fill="#F9F5DF"/>
<text transform="translate(1029.20 1124.50) scale(1.0000 1)" font-size="25.60" text-anchor="middle" fill="#111">7</text>
<rect x="1082.60" y="1101.25" width="86.40" height="30.00" fill="#F9F5DF"/>
<text transform="translate(1125.80 1124.50) scale(1.0000 1)" font-size="25.60" text-anchor="middle" fill="#111">8</text>
<rect x="1181.40" y="1101.25" width="86.40" height="30.00" fill="#F9F5DF"/>
<text transform="translate(1224.60 1124.50) scale(1.0000 1)" font-size="25.60" text-anchor="middle" fill="#111">9</text>
<rect x="1314.50" y="357.00" width="18.90" height="331.40" fill="#FAF6DE"/>
<path d="M1315.35 357.00V688.40M1332.55 357.00V688.40" stroke="#F5EFC8" stroke-width="1.7" fill="none"/>
<rect x="1398.00" y="357.00" width="36.70" height="331.40" fill="#FAF6DE"/>
<path d="M1398.85 357.00V688.40M1433.85 357.00V688.40" stroke="#F5EFC8" stroke-width="1.7" fill="none"/>
<rect x="1498.90" y="357.00" width="36.70" height="331.40" fill="#FAF6DE"/>
<path d="M1499.75 357.00V688.40M1534.75 357.00V688.40" stroke="#F5EFC8" stroke-width="1.7" fill="none"/>
<rect x="1599.80" y="357.00" width="15.20" height="331.40" fill="#FAF6DE"/>
<path d="M1600.65 357.00V688.40M1614.15 357.00V688.40" stroke="#F5EFC8" stroke-width="1.7" fill="none"/>
<clipPath id="cb4"><rect x="1313.10" y="340.00" width="303.60" height="348.40"/></clipPath>
<g clip-path="url(#cb4)">
<g stroke="#6b6649" fill="#6b6649"><polyline points="1329.3,617.2 1379.3,598.7 1430.2,617.2 1481.0,631.8 1530.3,624.1" fill="none" stroke-width="4.4" stroke-linejoin="round"/><circle cx="1329.3" cy="617.2" r="7.4" stroke="none"/><circle cx="1379.3" cy="598.7" r="7.4" stroke="none"/><circle cx="1430.2" cy="617.2" r="7.4" stroke="none"/><circle cx="1481.0" cy="631.8" r="7.4" stroke="none"/><circle cx="1530.3" cy="624.1" r="7.4" stroke="none"/></g>
<g stroke="#232a28" fill="#232a28"><polyline points="1333.1,617.2 1381.6,600.2 1431.7,623.3 1482.6,632.6 1532.6,621.8 1582.7,612.6" fill="none" stroke-width="4.4" stroke-linejoin="round"/><circle cx="1333.1" cy="617.2" r="7.4" stroke="none"/><circle cx="1381.6" cy="600.2" r="7.4" stroke="none"/><circle cx="1431.7" cy="623.3" r="7.4" stroke="none"/><circle cx="1482.6" cy="632.6" r="7.4" stroke="none"/><circle cx="1532.6" cy="621.8" r="7.4" stroke="none"/><circle cx="1582.7" cy="612.6" r="7.4" stroke="none"/></g>
<g stroke="#1d3d36" fill="#1d3d36"><polyline points="1332.3,512.1 1381.6,532.4 1432.5,539.8 1483.8,548.3 1533.4,533.5 1584.3,558.3" fill="none" stroke-width="4.4" stroke-linejoin="round"/><circle cx="1332.3" cy="512.1" r="7.4" stroke="none"/><circle cx="1381.6" cy="532.4" r="7.4" stroke="none"/><circle cx="1432.5" cy="539.8" r="7.4" stroke="none"/><circle cx="1483.8" cy="548.3" r="7.4" stroke="none"/><circle cx="1533.4" cy="533.5" r="7.4" stroke="none"/><circle cx="1584.3" cy="558.3" r="7.4" stroke="none"/></g>
<g stroke="#1f4d43" fill="#1f4d43"><polyline points="1333.1,628.7 1384.7,632.6 1434.5,644.9 1485.6,611.0 1536.5,635.7 1587.3,631.8" fill="none" stroke-width="4.4" stroke-linejoin="round"/><circle cx="1333.1" cy="628.7" r="7.4" stroke="none"/><circle cx="1384.7" cy="632.6" r="7.4" stroke="none"/><circle cx="1434.5" cy="644.9" r="7.4" stroke="none"/><circle cx="1485.6" cy="611.0" r="7.4" stroke="none"/><circle cx="1536.5" cy="635.7" r="7.4" stroke="none"/><circle cx="1587.3" cy="631.8" r="7.4" stroke="none"/></g>
<g stroke="#1c5c4e" fill="#1c5c4e"><polyline points="1335.4,594.1 1384.7,581.0 1436.3,581.0 1487.2,597.2 1538.0,624.1 1590.4,622.6" fill="none" stroke-width="4.4" stroke-linejoin="round"/><circle cx="1335.4" cy="594.1" r="7.4" stroke="none"/><circle cx="1384.7" cy="581.0" r="7.4" stroke="none"/><circle cx="1436.3" cy="581.0" r="7.4" stroke="none"/><circle cx="1487.2" cy="597.2" r="7.4" stroke="none"/><circle cx="1538.0" cy="624.1" r="7.4" stroke="none"/><circle cx="1590.4" cy="622.6" r="7.4" stroke="none"/></g>
<g stroke="#1a6a58" fill="#1a6a58"><polyline points="1335.4,577.1 1384.0,581.7 1437.1,563.3 1487.2,592.5 1538.8,581.0 1588.1,564.0" fill="none" stroke-width="4.4" stroke-linejoin="round"/><circle cx="1335.4" cy="577.1" r="7.4" stroke="none"/><circle cx="1384.0" cy="581.7" r="7.4" stroke="none"/><circle cx="1437.1" cy="563.3" r="7.4" stroke="none"/><circle cx="1487.2" cy="592.5" r="7.4" stroke="none"/><circle cx="1538.8" cy="581.0" r="7.4" stroke="none"/><circle cx="1588.1" cy="564.0" r="7.4" stroke="none"/></g>
<g stroke="#177a65" fill="#177a65"><polyline points="1337.7,607.2 1387.0,591.8 1438.7,617.2 1488.7,610.3 1539.6,621.0 1590.4,621.8" fill="none" stroke-width="4.4" stroke-linejoin="round"/><circle cx="1337.7" cy="607.2" r="7.4" stroke="none"/><circle cx="1387.0" cy="591.8" r="7.4" stroke="none"/><circle cx="1438.7" cy="617.2" r="7.4" stroke="none"/><circle cx="1488.7" cy="610.3" r="7.4" stroke="none"/><circle cx="1539.6" cy="621.0" r="7.4" stroke="none"/><circle cx="1590.4" cy="621.8" r="7.4" stroke="none"/></g>
<g stroke="#148570" fill="#148570"><polyline points="1339.6,459.6 1389.3,476.2 1440.7,459.6 1490.3,532.0 1541.1,536.8" fill="none" stroke-width="4.4" stroke-linejoin="round"/><circle cx="1339.6" cy="459.6" r="7.4" stroke="none"/><circle cx="1389.3" cy="476.2" r="7.4" stroke="none"/><circle cx="1440.7" cy="459.6" r="7.4" stroke="none"/><circle cx="1490.3" cy="532.0" r="7.4" stroke="none"/><circle cx="1541.1" cy="536.8" r="7.4" stroke="none"/></g>
<g stroke="#14907a" fill="#14907a"><polyline points="1340.8,571.3 1390.9,530.9 1441.3,532.0 1492.1,578.2" fill="none" stroke-width="4.4" stroke-linejoin="round"/><circle cx="1340.8" cy="571.3" r="7.4" stroke="none"/><circle cx="1390.9" cy="530.9" r="7.4" stroke="none"/><circle cx="1441.3" cy="532.0" r="7.4" stroke="none"/><circle cx="1492.1" cy="578.2" r="7.4" stroke="none"/></g>
<g stroke="#13a07f" fill="#13a07f"><polyline points="1344.7,614.1 1394.0,601.0 1444.0,628.7" fill="none" stroke-width="4.4" stroke-linejoin="round"/><circle cx="1344.7" cy="614.1" r="7.4" stroke="none"/><circle cx="1394.0" cy="601.0" r="7.4" stroke="none"/><circle cx="1444.0" cy="628.7" r="7.4" stroke="none"/></g>
<g stroke="#12a683" fill="#12a683"><polyline points="1343.1,611.8 1395.5,576.8 1445.6,611.0 1495.7,619.5 1545.0,595.6" fill="none" stroke-width="4.4" stroke-linejoin="round"/><circle cx="1343.1" cy="611.8" r="7.4" stroke="none"/><circle cx="1395.5" cy="576.8" r="7.4" stroke="none"/><circle cx="1445.6" cy="611.0" r="7.4" stroke="none"/><circle cx="1495.7" cy="619.5" r="7.4" stroke="none"/><circle cx="1545.0" cy="595.6" r="7.4" stroke="none"/></g>
<g stroke="#12a886" fill="#12a886"><polyline points="1342.4,626.4 1393.2,647.2 1444.0,623.3 1495.7,618.7 1546.5,634.9 1596.6,631.8" fill="none" stroke-width="4.4" stroke-linejoin="round"/><circle cx="1342.4" cy="626.4" r="7.4" stroke="none"/><circle cx="1393.2" cy="647.2" r="7.4" stroke="none"/><circle cx="1444.0" cy="623.3" r="7.4" stroke="none"/><circle cx="1495.7" cy="618.7" r="7.4" stroke="none"/><circle cx="1546.5" cy="634.9" r="7.4" stroke="none"/><circle cx="1596.6" cy="631.8" r="7.4" stroke="none"/></g>
</g>
<path d="M1313.10 355.20V688.40H1616.20" fill="none" stroke="#222" stroke-width="2.8" stroke-linejoin="miter"/>
<text transform="translate(1536.73 380.40) scale(0.9905 1)" font-size="27.5" fill="#111">n = 11</text>
<rect x="1314.50" y="721.00" width="18.90" height="330.10" fill="#FAF6DE"/>
<path d="M1315.35 721.00V1051.10M1332.55 721.00V1051.10" stroke="#F5EFC8" stroke-width="1.7" fill="none"/>
<rect x="1398.00" y="721.00" width="36.70" height="330.10" fill="#FAF6DE"/>
<path d="M1398.85 721.00V1051.10M1433.85 721.00V1051.10" stroke="#F5EFC8" stroke-width="1.7" fill="none"/>
<rect x="1498.90" y="721.00" width="36.70" height="330.10" fill="#FAF6DE"/>
<path d="M1499.75 721.00V1051.10M1534.75 721.00V1051.10" stroke="#F5EFC8" stroke-width="1.7" fill="none"/>
<rect x="1599.80" y="721.00" width="15.20" height="330.10" fill="#FAF6DE"/>
<path d="M1600.65 721.00V1051.10M1614.15 721.00V1051.10" stroke="#F5EFC8" stroke-width="1.7" fill="none"/>
<clipPath id="cc4"><rect x="1313.10" y="700.00" width="303.60" height="351.10"/></clipPath>
<g clip-path="url(#cc4)">
<g stroke="#6b6649" fill="#6b6649"><polyline points="1379.3,903.3 1429.4,927.9 1481.0,903.3 1530.6,862.4" fill="none" stroke-width="3.8" stroke-linejoin="round"/><circle cx="1379.3" cy="903.3" r="7.2" stroke="none"/><circle cx="1429.4" cy="927.9" r="7.2" stroke="none"/><circle cx="1481.0" cy="903.3" r="7.2" stroke="none"/><circle cx="1530.6" cy="862.4" r="7.2" stroke="none"/></g>
<g stroke="#232a28" fill="#232a28"><polyline points="1381.2,834.7 1432.5,893.2 1483.3,898.6 1533.4,866.3 1582.7,857.0" fill="none" stroke-width="3.8" stroke-linejoin="round"/><circle cx="1381.2" cy="834.7" r="7.2" stroke="none"/><circle cx="1432.5" cy="893.2" r="7.2" stroke="none"/><circle cx="1483.3" cy="898.6" r="7.2" stroke="none"/><circle cx="1533.4" cy="866.3" r="7.2" stroke="none"/><circle cx="1582.7" cy="857.0" r="7.2" stroke="none"/></g>
<g stroke="#1d3d36" fill="#1d3d36"><polyline points="1382.4,910.2 1433.3,894.0 1484.1,921.7 1535.7,867.1 1584.3,916.4" fill="none" stroke-width="3.8" stroke-linejoin="round"/><circle cx="1382.4" cy="910.2" r="7.2" stroke="none"/><circle cx="1433.3" cy="894.0" r="7.2" stroke="none"/><circle cx="1484.1" cy="921.7" r="7.2" stroke="none"/><circle cx="1535.7" cy="867.1" r="7.2" stroke="none"/><circle cx="1584.3" cy="916.4" r="7.2" stroke="none"/></g>
<g stroke="#1f4d43" fill="#1f4d43"><polyline points="1384.0,893.2 1435.6,916.4 1484.9,796.9" fill="none" stroke-width="3.8" stroke-linejoin="round"/><circle cx="1384.0" cy="893.2" r="7.2" stroke="none"/><circle cx="1435.6" cy="916.4" r="7.2" stroke="none"/><circle cx="1484.9" cy="796.9" r="7.2" stroke="none"/></g>
<g stroke="#1c5c4e" fill="#1c5c4e"><polyline points="1384.7,860.1 1437.1,846.3 1487.2,930.2 1536.5,959.5 1585.8,872.4" fill="none" stroke-width="3.8" stroke-linejoin="round"/><circle cx="1384.7" cy="860.1" r="7.2" stroke="none"/><circle cx="1437.1" cy="846.3" r="7.2" stroke="none"/><circle cx="1487.2" cy="930.2" r="7.2" stroke="none"/><circle cx="1536.5" cy="959.5" r="7.2" stroke="none"/><circle cx="1585.8" cy="872.4" r="7.2" stroke="none"/></g>
<g stroke="#1a6a58" fill="#1a6a58"><polyline points="1384.0,894.0 1441.0,886.3 1488.7,872.4 1539.6,909.4 1592.0,887.9" fill="none" stroke-width="3.8" stroke-linejoin="round"/><circle cx="1384.0" cy="894.0" r="7.2" stroke="none"/><circle cx="1441.0" cy="886.3" r="7.2" stroke="none"/><circle cx="1488.7" cy="872.4" r="7.2" stroke="none"/><circle cx="1539.6" cy="909.4" r="7.2" stroke="none"/><circle cx="1592.0" cy="887.9" r="7.2" stroke="none"/></g>
<g stroke="#1a6a58" fill="#1a6a58"><polyline points="1387.0,897.1 1439.4,935.6 1488.7,907.9 1536.5,959.5 1588.1,855.5" fill="none" stroke-width="3.8" stroke-linejoin="round"/><circle cx="1387.0" cy="897.1" r="7.2" stroke="none"/><circle cx="1439.4" cy="935.6" r="7.2" stroke="none"/><circle cx="1488.7" cy="907.9" r="7.2" stroke="none"/><circle cx="1536.5" cy="959.5" r="7.2" stroke="none"/><circle cx="1588.1" cy="855.5" r="7.2" stroke="none"/></g>
<g stroke="#177a65" fill="#177a65"><polyline points="1388.6,898.6 1440.2,868.6 1490.3,954.1 1540.3,890.9" fill="none" stroke-width="3.8" stroke-linejoin="round"/><circle cx="1388.6" cy="898.6" r="7.2" stroke="none"/><circle cx="1440.2" cy="868.6" r="7.2" stroke="none"/><circle cx="1490.3" cy="954.1" r="7.2" stroke="none"/><circle cx="1540.3" cy="890.9" r="7.2" stroke="none"/></g>
<g stroke="#148570" fill="#148570"><polyline points="1391.7,818.5 1444.0,941.8 1491.0,945.6" fill="none" stroke-width="3.8" stroke-linejoin="round"/><circle cx="1391.7" cy="818.5" r="7.2" stroke="none"/><circle cx="1444.0" cy="941.8" r="7.2" stroke="none"/><circle cx="1491.0" cy="945.6" r="7.2" stroke="none"/></g>
<g stroke="#14907a" fill="#14907a"><polyline points="1393.2,934.8 1442.8,805.4" fill="none" stroke-width="3.8" stroke-linejoin="round"/><circle cx="1393.2" cy="934.8" r="7.2" stroke="none"/><circle cx="1442.8" cy="805.4" r="7.2" stroke="none"/></g>
<g stroke="#13a07f" fill="#13a07f"><polyline points="1395.5,805.4 1444.8,943.3 1494.9,861.7 1545.0,830.8" fill="none" stroke-width="3.8" stroke-linejoin="round"/><circle cx="1395.5" cy="805.4" r="7.2" stroke="none"/><circle cx="1444.8" cy="943.3" r="7.2" stroke="none"/><circle cx="1494.9" cy="861.7" r="7.2" stroke="none"/><circle cx="1545.0" cy="830.8" r="7.2" stroke="none"/></g>
<g stroke="#12a886" fill="#12a886"><polyline points="1394.0,854.0 1445.6,945.6 1496.4,905.6 1545.7,921.0 1596.6,872.4" fill="none" stroke-width="3.8" stroke-linejoin="round"/><circle cx="1394.0" cy="854.0" r="7.2" stroke="none"/><circle cx="1445.6" cy="945.6" r="7.2" stroke="none"/><circle cx="1496.4" cy="905.6" r="7.2" stroke="none"/><circle cx="1545.7" cy="921.0" r="7.2" stroke="none"/><circle cx="1596.6" cy="872.4" r="7.2" stroke="none"/></g>
</g>
<path d="M1313.10 719.30V1051.10H1616.20" fill="none" stroke="#222" stroke-width="2.8" stroke-linejoin="miter"/>
<path d="M1338.00 1051.10v14.6M1388.30 1051.10v14.6M1438.60 1051.10v14.6M1488.90 1051.10v14.6M1539.40 1051.10v14.6M1590.00 1051.10v14.6" fill="none" stroke="#222" stroke-width="3.0"/>
<text transform="translate(1338.00 1093.50) scale(1.0000 1)" font-size="25.60" text-anchor="middle" fill="#111">0</text>
<text transform="translate(1388.30 1093.50) scale(1.0000 1)" font-size="25.60" text-anchor="middle" fill="#111">10</text>
<text transform="translate(1438.60 1093.50) scale(1.0000 1)" font-size="25.60" text-anchor="middle" fill="#111">0</text>
<text transform="translate(1488.10 1095.50) scale(1.0000 1)" font-size="25.60" text-anchor="middle" fill="#111">10</text>
<text transform="translate(1539.40 1093.50) scale(1.0000 1)" font-size="25.60" text-anchor="middle" fill="#111">0</text>
<text transform="translate(1590.00 1093.50) scale(1.0000 1)" font-size="25.60" text-anchor="middle" fill="#111">10</text>
<rect x="1339.80" y="1101.25" width="87.60" height="30.00" fill="#F9F5DF"/>
<text transform="translate(1383.60 1124.50) scale(1.0000 1)" font-size="25.60" text-anchor="middle" fill="#111">7</text>
<rect x="1436.90" y="1101.25" width="86.40" height="30.00" fill="#F9F5DF"/>
<text transform="translate(1480.10 1124.50) scale(1.0000 1)" font-size="25.60" text-anchor="middle" fill="#111">8</text>
<rect x="1536.00" y="1101.25" width="86.30" height="30.00" fill="#F9F5DF"/>
<text transform="translate(1579.15 1124.50) scale(1.0000 1)" font-size="25.60" text-anchor="middle" fill="#111">9</text>
<line x1="604.10" y1="379.50" x2="618.90" y2="379.50" stroke="#222" stroke-width="2.9"/>
<text transform="translate(598.00 389.60) scale(0.9750 1)" font-size="28.30" text-anchor="end" fill="#111">300</text>
<line x1="604.10" y1="437.60" x2="618.90" y2="437.60" stroke="#222" stroke-width="2.9"/>
<text transform="translate(598.00 447.70) scale(0.9750 1)" font-size="28.30" text-anchor="end" fill="#111">250</text>
<line x1="604.10" y1="495.80" x2="618.90" y2="495.80" stroke="#222" stroke-width="2.9"/>
<text transform="translate(598.00 505.90) scale(0.9750 1)" font-size="28.30" text-anchor="end" fill="#111">200</text>
<line x1="604.10" y1="553.90" x2="618.90" y2="553.90" stroke="#222" stroke-width="2.9"/>
<text transform="translate(598.00 564.00) scale(0.9750 1)" font-size="28.30" text-anchor="end" fill="#111">150</text>
<line x1="604.10" y1="612.10" x2="618.90" y2="612.10" stroke="#222" stroke-width="2.9"/>
<text transform="translate(598.00 622.20) scale(0.9750 1)" font-size="28.30" text-anchor="end" fill="#111">100</text>
<line x1="604.10" y1="670.20" x2="618.90" y2="670.20" stroke="#222" stroke-width="2.9"/>
<text transform="translate(598.00 680.30) scale(0.9750 1)" font-size="28.30" text-anchor="end" fill="#111">50</text>
<line x1="604.10" y1="758.60" x2="618.90" y2="758.60" stroke="#222" stroke-width="2.9"/>
<text transform="translate(597.50 768.70) scale(0.9750 1)" font-size="28.30" text-anchor="end" fill="#111">50</text>
<line x1="604.10" y1="822.20" x2="618.90" y2="822.20" stroke="#222" stroke-width="2.9"/>
<text transform="translate(597.50 832.30) scale(0.9750 1)" font-size="28.30" text-anchor="end" fill="#111">25</text>
<line x1="604.10" y1="885.80" x2="618.90" y2="885.80" stroke="#222" stroke-width="2.9"/>
<text transform="translate(597.50 895.90) scale(0.9750 1)" font-size="28.30" text-anchor="end" fill="#111">0</text>
<line x1="604.10" y1="949.40" x2="618.90" y2="949.40" stroke="#222" stroke-width="2.9"/>
<text transform="translate(597.50 959.50) scale(0.9750 1)" font-size="28.30" text-anchor="end" fill="#111">−25</text>
<line x1="604.10" y1="1013.00" x2="618.90" y2="1013.00" stroke="#222" stroke-width="2.9"/>
<text transform="translate(597.50 1023.10) scale(0.9750 1)" font-size="28.30" text-anchor="end" fill="#111">−50</text>
<text transform="translate(1649.86 405.80) scale(1.0467 1)" font-size="63" font-weight="bold" fill="#000">d</text>
<rect x="1917.90" y="357.00" width="115.70" height="331.40" fill="#ECECEC"/>
<path d="M1918.75 357.00V688.40M2032.75 357.00V688.40" stroke="#DDDDDD" stroke-width="1.7" fill="none"/>
<g stroke="#5BB6E7" fill="#5BB6E7"><polyline points="1888.30,422.70 2039.70,472.10" fill="none" stroke-width="4.0" stroke-linejoin="round"/><path d="M1888.30 371.90V471.20M2039.70 431.50V513.70" fill="none" stroke-width="3.6" stroke-linecap="round"/><circle cx="1888.30" cy="422.70" r="7" stroke="none"/><circle cx="2039.70" cy="472.10" r="7" stroke="none"/></g>
<g stroke="#DC8EB9" fill="#DC8EB9"><polyline points="1893.60,600.30 2045.00,605.20" fill="none" stroke-width="4.0" stroke-linejoin="round"/><path d="M1893.60 520.70V666.50M2045.00 535.80V661.20" fill="none" stroke-width="3.6" stroke-linecap="round"/><circle cx="1893.60" cy="600.30" r="7" stroke="none"/><circle cx="2045.00" cy="605.20" r="7" stroke="none"/></g>
<g stroke="#15A886" fill="#15A886"><polyline points="1899.90,567.10 2051.00,567.10" fill="none" stroke-width="4.0" stroke-linejoin="round"/><path d="M1899.90 478.70V659.30M2051.00 466.40V672.50" fill="none" stroke-width="3.6" stroke-linecap="round"/><circle cx="1899.90" cy="567.10" r="7" stroke="none"/><circle cx="2051.00" cy="567.10" r="7" stroke="none"/></g>
<path d="M1818.90 355.20V688.40H2122.00" fill="none" stroke="#222" stroke-width="3.4" stroke-linejoin="miter"/>
<line x1="1804.10" y1="392.30" x2="1818.90" y2="392.30" stroke="#222" stroke-width="2.9"/>
<text transform="translate(1797.00 402.40) scale(0.9750 1)" font-size="28.30" text-anchor="end" fill="#111">140</text>
<line x1="1804.10" y1="480.40" x2="1818.90" y2="480.40" stroke="#222" stroke-width="2.9"/>
<text transform="translate(1797.00 490.50) scale(0.9750 1)" font-size="28.30" text-anchor="end" fill="#111">130</text>
<line x1="1804.10" y1="568.50" x2="1818.90" y2="568.50" stroke="#222" stroke-width="2.9"/>
<text transform="translate(1797.00 578.60) scale(0.9750 1)" font-size="28.30" text-anchor="end" fill="#111">120</text>
<line x1="1804.10" y1="656.60" x2="1818.90" y2="656.60" stroke="#222" stroke-width="2.9"/>
<text transform="translate(1797.00 666.70) scale(0.9750 1)" font-size="28.30" text-anchor="end" fill="#111">110</text>
<text transform="translate(1738.80 642.75) rotate(-90) scale(0.9344 1)" font-size="34.4" fill="#111">Synapse Count</text>
<text transform="translate(1651.35 756.80) scale(1.1042 1)" font-size="60" font-weight="bold" fill="#000">e</text>
<rect x="1918.10" y="721.00" width="115.30" height="330.10" fill="#ECECEC"/>
<path d="M1918.95 721.00V1051.10M2032.55 721.00V1051.10" stroke="#DDDDDD" stroke-width="1.7" fill="none"/>
<g stroke="#5BB6E7" fill="#5BB6E7"><path d="M1888.50 736.20V843.10M2039.60 917.80V994.50" fill="none" stroke-width="3.6" stroke-linecap="round"/><circle cx="1888.50" cy="787.60" r="7" stroke="none"/><circle cx="2039.60" cy="957.20" r="7" stroke="none"/></g>
<line x1="1818.90" y1="917.10" x2="2122.00" y2="917.10" stroke="#000" stroke-opacity="0.7" stroke-width="3.8" stroke-dasharray="13.2 6.5"/>
<g stroke="#DC8EB9" fill="#DC8EB9"><path d="M1894.00 879.80V989.00M2045.10 868.60V984.00" fill="none" stroke-width="3.6" stroke-linecap="round"/><circle cx="1894.00" cy="936.00" r="7" stroke="none"/><circle cx="2045.10" cy="926.60" r="7" stroke="none"/></g>
<g stroke="#15A886" fill="#15A886"><path d="M1899.70 856.70V993.20M2051.30 856.20V1035.60" fill="none" stroke-width="3.6" stroke-linecap="round"/><circle cx="1899.70" cy="924.60" r="7" stroke="none"/><circle cx="2051.30" cy="947.00" r="7" stroke="none"/></g>
<path d="M1818.90 719.30V1051.10H2122.00" fill="none" stroke="#222" stroke-width="3.4" stroke-linejoin="miter"/>
<line x1="1804.10" y1="812.80" x2="1818.90" y2="812.80" stroke="#222" stroke-width="2.9"/>
<text transform="translate(1794.50 822.90) scale(0.9750 1)" font-size="28.30" text-anchor="end" fill="#111">5</text>
<line x1="1804.10" y1="917.10" x2="1818.90" y2="917.10" stroke="#222" stroke-width="2.9"/>
<text transform="translate(1794.50 927.20) scale(0.9750 1)" font-size="28.30" text-anchor="end" fill="#111">0</text>
<line x1="1804.10" y1="1021.70" x2="1818.90" y2="1021.70" stroke="#222" stroke-width="2.9"/>
<text transform="translate(1794.50 1031.80) scale(0.9750 1)" font-size="28.30" text-anchor="end" fill="#111">−5</text>
<path d="M1893.50 1051.10v14.6M2045.10 1051.10v14.6" fill="none" stroke="#222" stroke-width="2.9"/>
<text transform="translate(1742.00 1002.73) rotate(-90) scale(0.8994 1)" font-size="34.4" fill="#111">Δ Synapse No (%)</text>
<text transform="translate(1893.50 1104.00) scale(1.0400 1)" font-size="26.00" text-anchor="middle" fill="#111">Day</text>
<text transform="translate(1893.50 1134.70) scale(1.0400 1)" font-size="26.00" text-anchor="middle" fill="#111">dynamics</text>
<text transform="translate(2045.10 1104.00) scale(1.0400 1)" font-size="26.00" text-anchor="middle" fill="#111">Night</text>
<text transform="translate(2045.10 1134.70) scale(1.0400 1)" font-size="26.00" text-anchor="middle" fill="#111">dynamics</text>
<text transform="translate(533.45 1268.75) scale(1.1161 1)" font-size="63" font-weight="bold" fill="#000">f</text>
<circle cx="629.50" cy="1276.75" r="14" fill="#F98D62"/>
<circle cx="628.30" cy="1379.25" r="14" fill="#15A886"/>
<text transform="translate(671.85 1288.25) scale(1.0279 1)" font-size="31.5" fill="#000">Tracked</text>
<text transform="translate(671.37 1390.75) scale(1.0352 1)" font-size="31.5" fill="#000">Control</text>
<rect x="840.50" y="1256.30" width="20.00" height="37.50" fill="#B4BAB6"/>
<rect x="937.00" y="1256.30" width="58.60" height="37.50" fill="#B4BAB6"/>
<rect x="1072.50" y="1256.30" width="58.00" height="37.50" fill="#B4BAB6"/>
<rect x="1207.00" y="1256.30" width="58.00" height="37.50" fill="#B4BAB6"/>
<rect x="1339.50" y="1256.30" width="58.00" height="37.50" fill="#B4BAB6"/>
<path d="M860.50 1256.30V1293.80M937.00 1256.30V1293.80M995.60 1256.30V1293.80M1072.50 1256.30V1293.80M1130.50 1256.30V1293.80M1207.00 1256.30V1293.80M1265.00 1256.30V1293.80M1339.50 1256.30V1293.80" fill="none" stroke="#000" stroke-width="2.5"/>
<path d="M839.25 1256.30H1398.75M839.25 1293.80H1398.75" fill="none" stroke="#000" stroke-width="3.0"/>
<path d="M840.50 1256.30V1293.80M1397.50 1256.30V1293.80" fill="none" stroke="#000" stroke-width="2.5"/>
<rect x="840.50" y="1359.30" width="20.00" height="37.00" fill="#B4BAB6"/>
<rect x="937.00" y="1359.30" width="58.60" height="37.00" fill="#B4BAB6"/>
<rect x="1072.50" y="1359.30" width="58.00" height="37.00" fill="#B4BAB6"/>
<rect x="1207.00" y="1359.30" width="58.00" height="37.00" fill="#B4BAB6"/>
<rect x="1339.50" y="1359.30" width="58.00" height="37.00" fill="#B4BAB6"/>
<path d="M860.50 1359.30V1396.30M937.00 1359.30V1396.30M995.60 1359.30V1396.30M1072.50 1359.30V1396.30M1130.50 1359.30V1396.30M1207.00 1359.30V1396.30M1265.00 1359.30V1396.30M1339.50 1359.30V1396.30" fill="none" stroke="#000" stroke-width="2.5"/>
<path d="M839.25 1359.30H1398.75M839.25 1396.30H1398.75" fill="none" stroke="#000" stroke-width="3.0"/>
<path d="M840.50 1359.30V1396.30M1397.50 1359.30V1396.30" fill="none" stroke="#000" stroke-width="2.5"/>
<path d="M999.25 1212.50V1242.39M988.85 1231.99L999.25 1242.39L1009.65 1231.99" fill="none" stroke="#000" stroke-width="4.4" stroke-linejoin="miter" stroke-miterlimit="10"/>
<path d="M1054.25 1212.50V1242.39M1043.85 1231.99L1054.25 1242.39L1064.65 1231.99" fill="none" stroke="#000" stroke-width="4.4" stroke-linejoin="miter" stroke-miterlimit="10"/>
<path d="M1136.25 1212.50V1242.39M1125.85 1231.99L1136.25 1242.39L1146.65 1231.99" fill="none" stroke="#000" stroke-width="4.4" stroke-linejoin="miter" stroke-miterlimit="10"/>
<path d="M1191.25 1212.50V1242.39M1180.85 1231.99L1191.25 1242.39L1201.65 1231.99" fill="none" stroke="#000" stroke-width="4.4" stroke-linejoin="miter" stroke-miterlimit="10"/>
<path d="M1269.25 1212.50V1242.39M1258.85 1231.99L1269.25 1242.39L1279.65 1231.99" fill="none" stroke="#000" stroke-width="4.4" stroke-linejoin="miter" stroke-miterlimit="10"/>
<path d="M1324.25 1212.50V1242.39M1313.85 1231.99L1324.25 1242.39L1334.65 1231.99" fill="none" stroke="#000" stroke-width="4.4" stroke-linejoin="miter" stroke-miterlimit="10"/>
<path d="M999.00 1316.25V1345.64M988.60 1335.24L999.00 1345.64L1009.40 1335.24" fill="none" stroke="#000" stroke-width="4.4" stroke-linejoin="miter" stroke-miterlimit="10"/>
<path d="M1324.25 1316.25V1345.64M1313.85 1335.24L1324.25 1345.64L1334.65 1335.24" fill="none" stroke="#000" stroke-width="4.4" stroke-linejoin="miter" stroke-miterlimit="10"/>
<text transform="translate(863.66 1436.25) scale(1.0737 1)" font-size="25" fill="#000">6dpf</text>
<text transform="translate(1002.41 1436.25) scale(1.0737 1)" font-size="25" fill="#000">7dpf</text>
<text transform="translate(1143.05 1436.25) scale(1.0709 1)" font-size="25" fill="#000">8dpf</text>
<text transform="translate(1274.30 1436.25) scale(1.0709 1)" font-size="25" fill="#000">9dpf</text>
<text transform="translate(0.38 1551.60) scale(1.0924 1)" font-size="60" font-weight="bold" fill="#000">g</text>
<g stroke="#63C0A3" fill="#63C0A3"><polyline points="294.40,1763.20 432.10,1724.20" fill="none" stroke-width="5.0" stroke-linejoin="round"/><path d="M294.40 1705.30V1822.40M432.10 1621.50V1841.20" fill="none" stroke-width="5.0" stroke-linecap="round"/><circle cx="294.40" cy="1763.20" r="8.9" stroke="none"/><circle cx="432.10" cy="1724.20" r="8.9" stroke="none"/></g>
<g stroke="#F98D62" fill="#F98D62"><polyline points="301.10,1664.70 439.40,1644.30" fill="none" stroke-width="5.0" stroke-linejoin="round"/><path d="M301.10 1584.50V1744.50M439.40 1552.80V1737.00" fill="none" stroke-width="5.0" stroke-linecap="round"/><circle cx="301.10" cy="1664.70" r="8.9" stroke="none"/><circle cx="439.40" cy="1644.30" r="8.9" stroke="none"/></g>
<path d="M228.70 1536.40V1857.10H506.70" fill="none" stroke="#222" stroke-width="2.6" stroke-linejoin="miter"/>
<line x1="216.20" y1="1573.90" x2="228.70" y2="1573.90" stroke="#222" stroke-width="2.6"/>
<text transform="translate(206.00 1585.47) scale(0.9900 1)" font-size="32.40" text-anchor="end" fill="#111">160</text>
<line x1="216.20" y1="1649.10" x2="228.70" y2="1649.10" stroke="#222" stroke-width="2.6"/>
<text transform="translate(206.00 1660.67) scale(0.9900 1)" font-size="32.40" text-anchor="end" fill="#111">140</text>
<line x1="216.20" y1="1723.70" x2="228.70" y2="1723.70" stroke="#222" stroke-width="2.6"/>
<text transform="translate(206.00 1735.27) scale(0.9900 1)" font-size="32.40" text-anchor="end" fill="#111">120</text>
<line x1="216.20" y1="1798.80" x2="228.70" y2="1798.80" stroke="#222" stroke-width="2.6"/>
<text transform="translate(206.00 1810.37) scale(0.9900 1)" font-size="32.40" text-anchor="end" fill="#111">100</text>
<path d="M297.10 1857.10v11.5M436.10 1857.10v11.5" fill="none" stroke="#222" stroke-width="2.6"/>
<text transform="translate(121.30 1794.16) rotate(-90) scale(0.9430 1)" font-size="34.4" fill="#111">Synapse Count</text>
<text transform="translate(298.00 1911.30) scale(1.0160 1)" font-size="28.70" text-anchor="middle" fill="#111">7dpf</text>
<text transform="translate(298.00 1945.70) scale(1.0160 1)" font-size="28.70" text-anchor="middle" fill="#111">ZT0</text>
<text transform="translate(437.30 1911.30) scale(1.0160 1)" font-size="28.70" text-anchor="middle" fill="#111">9dpf</text>
<text transform="translate(437.30 1945.70) scale(1.0160 1)" font-size="28.70" text-anchor="middle" fill="#111">ZT10</text>
<text transform="translate(790.10 1519.60) scale(1.0000 1)" font-size="32.00" text-anchor="middle" fill="#111">ns</text>
<g stroke="#63C0A3" fill="#63C0A3"><path d="M781.60 1561.80V1828.70" fill="none" stroke-width="5.0" stroke-linecap="round"/><circle cx="781.60" cy="1688.10" r="8.9" stroke="none"/></g>
<g stroke="#F98D62" fill="#F98D62"><path d="M795.80 1552.90V1841.80" fill="none" stroke-width="5.0" stroke-linecap="round"/><circle cx="795.80" cy="1688.10" r="8.9" stroke="none"/></g>
<line x1="718.00" y1="1758.50" x2="859.30" y2="1758.50" stroke="#000" stroke-opacity="0.7" stroke-width="3.1" stroke-dasharray="11.1 5.65"/>
<path d="M717.90 1537.00V1856.40H860.20" fill="none" stroke="#222" stroke-width="2.6" stroke-linejoin="miter"/>
<line x1="705.40" y1="1574.90" x2="717.90" y2="1574.90" stroke="#222" stroke-width="2.6"/>
<text transform="translate(698.70 1586.47) scale(0.9900 1)" font-size="32.40" text-anchor="end" fill="#111">20</text>
<line x1="705.40" y1="1666.70" x2="717.90" y2="1666.70" stroke="#222" stroke-width="2.6"/>
<text transform="translate(698.70 1678.27) scale(0.9900 1)" font-size="32.40" text-anchor="end" fill="#111">10</text>
<line x1="705.40" y1="1758.50" x2="717.90" y2="1758.50" stroke="#222" stroke-width="2.6"/>
<text transform="translate(698.70 1770.07) scale(0.9900 1)" font-size="32.40" text-anchor="end" fill="#111">0</text>
<line x1="705.40" y1="1850.50" x2="717.90" y2="1850.50" stroke="#222" stroke-width="2.6"/>
<text transform="translate(698.70 1862.07) scale(0.9900 1)" font-size="32.40" text-anchor="end" fill="#111">−10</text>
<path d="M788.30 1856.40v11.5" fill="none" stroke="#222" stroke-width="2.6"/>
<text transform="translate(609.80 1829.12) rotate(-90) scale(0.8922 1)" font-size="34.4" fill="#111">Δ Synapse No (%)</text>
<text transform="translate(792.00 1912.80) scale(1.0160 1)" font-size="28.70" text-anchor="middle" fill="#111">9dpf</text>
<text transform="translate(791.50 1947.10) scale(1.0160 1)" font-size="28.70" text-anchor="middle" fill="#111">ZT10</text>
<text transform="translate(973.58 1551.30) scale(1.0020 1)" font-size="63" font-weight="bold" fill="#000">h</text>
<g stroke="#63C0A3" fill="#63C0A3"><polyline points="1311.10,1741.00 1449.80,1693.50" fill="none" stroke-width="5.0" stroke-linejoin="round"/><path d="M1311.10 1700.80V1784.40M1449.80 1608.80V1790.30" fill="none" stroke-width="5.0" stroke-linecap="round"/><circle cx="1311.10" cy="1741.00" r="8.9" stroke="none"/><circle cx="1449.80" cy="1693.50" r="8.9" stroke="none"/></g>
<g stroke="#F98D62" fill="#F98D62"><polyline points="1319.10,1733.80 1456.80,1695.40" fill="none" stroke-width="5.0" stroke-linejoin="round"/><path d="M1319.10 1659.80V1794.30M1456.80 1530.10V1817.90" fill="none" stroke-width="5.0" stroke-linecap="round"/><circle cx="1319.10" cy="1733.80" r="8.9" stroke="none"/><circle cx="1456.80" cy="1695.40" r="8.9" stroke="none"/></g>
<path d="M1245.90 1515.80V1833.60H1523.90" fill="none" stroke="#222" stroke-width="2.6" stroke-linejoin="miter"/>
<line x1="1233.40" y1="1535.10" x2="1245.90" y2="1535.10" stroke="#222" stroke-width="2.6"/>
<text transform="translate(1225.60 1546.67) scale(0.9900 1)" font-size="32.40" text-anchor="end" fill="#111">0.5</text>
<line x1="1233.40" y1="1639.80" x2="1245.90" y2="1639.80" stroke="#222" stroke-width="2.6"/>
<text transform="translate(1225.60 1651.37) scale(0.9900 1)" font-size="32.40" text-anchor="end" fill="#111">0.4</text>
<line x1="1233.40" y1="1744.50" x2="1245.90" y2="1744.50" stroke="#222" stroke-width="2.6"/>
<text transform="translate(1225.60 1756.07) scale(0.9900 1)" font-size="32.40" text-anchor="end" fill="#111">0.3</text>
<path d="M1314.60 1833.60v11.5M1453.30 1833.60v11.5" fill="none" stroke="#222" stroke-width="2.6"/>
<text transform="translate(1105.80 1765.92) rotate(-90) scale(0.9538 1)" font-size="34.4" fill="#111">Normalized</text>
<text transform="translate(1144.10 1812.27) rotate(-90) scale(0.9513 1)" font-size="34.4" fill="#111">Synapse Intensity</text>
<text transform="translate(1301.00 1884.10) scale(1.0160 1)" font-size="28.70" text-anchor="middle" fill="#111">7dpf</text>
<text transform="translate(1301.00 1918.40) scale(1.0160 1)" font-size="28.70" text-anchor="middle" fill="#111">ZT0</text>
<text transform="translate(1440.30 1884.10) scale(1.0160 1)" font-size="28.70" text-anchor="middle" fill="#111">9dpf</text>
<text transform="translate(1440.30 1918.40) scale(1.0160 1)" font-size="28.70" text-anchor="middle" fill="#111">ZT10</text>
<text transform="translate(1792.00 1505.60) scale(1.0000 1)" font-size="32.00" text-anchor="middle" fill="#111">ns</text>
<g stroke="#63C0A3" fill="#63C0A3"><path d="M1785.50 1654.40V1814.50" fill="none" stroke-width="5.0" stroke-linecap="round"/><circle cx="1785.50" cy="1734.60" r="8.9" stroke="none"/></g>
<g stroke="#F98D62" fill="#F98D62"><path d="M1799.70 1533.60V1820.40" fill="none" stroke-width="5.0" stroke-linecap="round"/><circle cx="1799.70" cy="1688.70" r="8.9" stroke="none"/></g>
<line x1="1722.40" y1="1774.60" x2="1863.60" y2="1774.60" stroke="#000" stroke-opacity="0.7" stroke-width="3.1" stroke-dasharray="11.1 5.65"/>
<path d="M1722.40 1516.90V1836.60H1864.10" fill="none" stroke="#222" stroke-width="2.6" stroke-linejoin="miter"/>
<line x1="1709.90" y1="1553.90" x2="1722.40" y2="1553.90" stroke="#222" stroke-width="2.6"/>
<text transform="translate(1702.40 1565.47) scale(0.9900 1)" font-size="32.40" text-anchor="end" fill="#111">100</text>
<line x1="1709.90" y1="1664.50" x2="1722.40" y2="1664.50" stroke="#222" stroke-width="2.6"/>
<text transform="translate(1702.40 1676.07) scale(0.9900 1)" font-size="32.40" text-anchor="end" fill="#111">50</text>
<line x1="1709.90" y1="1774.60" x2="1722.40" y2="1774.60" stroke="#222" stroke-width="2.6"/>
<text transform="translate(1702.40 1786.17) scale(0.9900 1)" font-size="32.40" text-anchor="end" fill="#111">0</text>
<path d="M1792.20 1836.60v11.5" fill="none" stroke="#222" stroke-width="2.6"/>
<text transform="translate(1621.20 1782.42) rotate(-90) scale(0.8874 1)" font-size="34.4" fill="#111">Δ Intensity (%)</text>
<text transform="translate(1789.90 1886.20) scale(1.0160 1)" font-size="28.70" text-anchor="middle" fill="#111">9dpf</text>
<text transform="translate(1789.60 1921.10) scale(1.0160 1)" font-size="28.70" text-anchor="middle" fill="#111">ZT10</text>
</svg>
</body>
</html>
